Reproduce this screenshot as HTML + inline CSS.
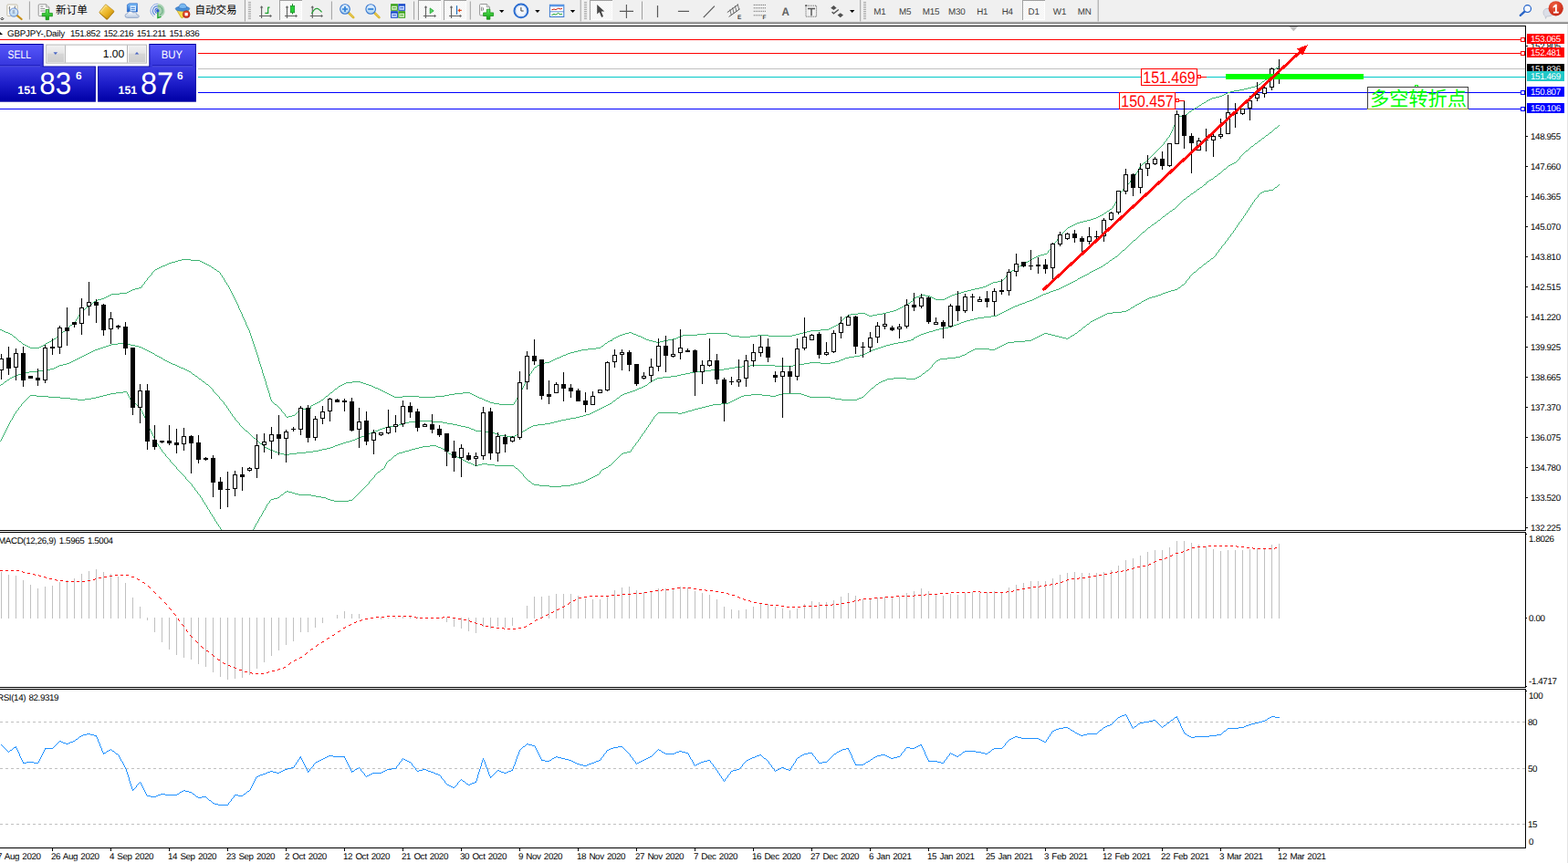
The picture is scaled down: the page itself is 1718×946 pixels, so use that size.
<!DOCTYPE html>
<html><head><meta charset="utf-8"><title>GBPJPY Daily</title>
<style>
html,body{margin:0;padding:0;background:#fff;}
body{width:1718px;height:946px;overflow:hidden;position:relative;font-family:"Liberation Sans",sans-serif;}
#app{position:absolute;left:0;top:0;width:1718px;height:946px;overflow:hidden;background:#fff;}
#chart{position:absolute;left:0;top:0;}
#chart text{font-family:"Liberation Sans",sans-serif;}
*{text-rendering:geometricPrecision;}
.t{position:absolute;font-size:9.8px;line-height:12px;height:12px;white-space:nowrap;color:#000;letter-spacing:-0.38px;}
.lab{position:absolute;left:1673px;width:41px;height:10px;padding-top:1px;font-size:9.8px;line-height:12px;letter-spacing:-0.38px;text-indent:4px;white-space:nowrap;overflow:hidden;}

</style></head>
<body><div id="app">
<svg id="chart" width="1718" height="946" viewBox="0 0 1718 946">
<defs><clipPath id="cm"><rect x="0" y="29" width="1671" height="552"/></clipPath></defs>
<g shape-rendering="crispEdges">
<rect x="0" y="43" width="1671" height="1" fill="#ff0000"/>
<rect x="0" y="58" width="1671" height="1" fill="#ff0000"/>
<rect x="0" y="75" width="1671" height="1" fill="#c0c0c0"/>
<rect x="0" y="84" width="1671" height="1" fill="#00c8c8"/>
<rect x="0" y="101" width="1671" height="1" fill="#0000ff"/>
<rect x="0" y="119" width="1671" height="1" fill="#0000ff"/>
</g>
<path d="M0 361h2v1h-2zm0 61h1v1h-1zm0 61h1v1h-1zm1 -62h2v1h-2zm0 60h1v2h-1zm1 -119h2v1h-2zm0 117h1v2h-1zm1 -59h1v1h-1zm0 57h1v2h-1zm1 -114h2v1h-2zm0 56h1v1h-1zm0 56h1v2h-1zm1 -57h2v1h-2zm0 55h1v2h-1zm1 -109h3v1h-3zm0 107h1v2h-1zm1 -54h1v1h-1zm0 52h1v2h-1zm1 -53h2v1h-2zm0 51h1v2h-1zm1 -102h2v1h-2zm0 100h1v2h-1zm1 -50h1v1h-1zm0 48h1v2h-1zm1 -97h2v1h-2zm0 48h2v1h-2zm0 47h1v2h-1zm1 -1h1v1h-1zm1 -93h1v1h-1zm0 46h2v1h-2zm0 45h1v2h-1zm1 -90h1v1h-1zm0 88h1v2h-1zm1 -87h2v1h-2zm0 43h2v1h-2zm0 42h1v2h-1zm1 -1h1v1h-1zm1 -83h1v1h-1zm0 41h3v1h-3zm0 40h1v2h-1zm1 -80h1v1h-1zm0 79h1v1h-1zm1 -78h1v1h-1zm0 77h1v1h-1zm1 -76h1v1h-1zm0 37h4v1h-4zm0 37h1v2h-1zm1 -73h2v1h-2zm0 72h1v1h-1zm1 -1h1v1h-1zm1 -70h1v1h-1zm0 68h1v2h-1zm1 -67h1v1h-1zm0 33h4v1h-4zm0 33h1v1h-1zm1 -65h2v1h-2zm0 64h1v1h-1zm1 -1h1v1h-1zm1 -62h2v1h-2zm0 61h1v1h-1zm1 -31h4v1h-4zm0 30h1v1h-1zm1 -59h2v1h-2zm0 58h1v1h-1zm1 -1h1v1h-1zm1 -56h2v1h-2zm0 55h1v1h-1zm1 -28h9v1h-9zm0 27h1v1h-1zm1 -53h10v1h-10zm0 52h7v1h-7zm7 1h13v1h-13zm1 -28h9v1h-9zm2 -26h2v1h-2zm2 -1h2v1h-2zm2 -1h2v1h-2zm2 -1h1v1h-1zm1 -1h2v1h-2zm0 29h5v1h-5zm2 -30h2v1h-2zm1 60h13v1h-13zm1 -61h2v1h-2zm1 30h4v1h-4zm1 -31h2v1h-2zm2 -1h1v1h-1zm1 -1h2v1h-2zm0 32h2v1h-2zm2 -33h1v1h-1zm0 32h2v1h-2zm1 -33h1v1h-1zm1 -1h2v1h-2zm0 33h2v1h-2zm2 -34h1v1h-1zm0 33h4v1h-4zm1 -34h1v1h-1zm0 70h11v1h-11zm1 -71h1v1h-1zm1 -1h1v1h-1zm1 -1h2v1h-2zm0 36h4v1h-4zm2 -37h1v1h-1zm1 -1h1v1h-1zm1 -1h1v1h-1zm0 38h3v1h-3zm1 -39h1v1h-1zm1 -1h1v1h-1zm1 -1h1v1h-1zm0 40h2v1h-2zm1 -41h2v1h-2zm0 81h8v1h-8zm1 -41h2v1h-2zm1 -41h1v1h-1zm1 -1h1v1h-1zm0 41h2v1h-2zm1 -42h1v1h-1zm1 -1h1v1h-1zm0 42h2v1h-2zm1 -44h1v2h-1zm1 -1h1v1h-1zm0 44h2v1h-2zm1 -46h1v2h-1zm0 91h8v1h-8zm1 -93h1v2h-1zm0 47h2v1h-2zm1 -48h1v1h-1zm1 -2h1v2h-1zm0 49h2v1h-2zm1 -50h1v1h-1zm1 -1h1v1h-1zm0 50h2v1h-2zm1 -51h2v1h-2zm1 50h2v1h-2zm1 -51h1v1h-1zm0 99h7v1h-7zm1 -100h1v1h-1zm0 51h2v1h-2zm1 -52h2v1h-2zm1 51h2v1h-2zm1 -52h1v1h-1zm1 -1h1v1h-1zm0 52h2v1h-2zm1 -53h2v1h-2zm1 52h2v1h-2zm0 51h5v1h-5zm1 -104h1v1h-1zm1 -1h1v1h-1zm0 53h2v1h-2zm1 -54h2v1h-2zm1 53h3v1h-3zm1 -54h2v1h-2zm0 106h4v1h-4zm2 -107h4v1h-4zm0 54h3v1h-3zm2 52h4v1h-4zm1 -53h3v1h-3zm1 -54h3v1h-3zm2 53h3v1h-3zm0 53h4v1h-4zm1 -107h2v1h-2zm2 -1h2v1h-2zm0 54h3v1h-3zm1 53h4v1h-4zm1 -108h2v1h-2zm1 54h3v1h-3zm1 -55h2v1h-2zm1 108h6v1h-6zm1 -109h9v1h-9zm0 55h7v1h-7zm5 53h8v1h-8zm2 -54h9v1h-9zm2 -55h8v1h-8zm4 108h4v1h-4zm3 -52h5v1h-5zm1 -57h2v1h-2zm0 110h1v2h-1zm1 2h1v2h-1zm1 -113h2v1h-2zm0 115h1v2h-1zm1 2h1v2h-1zm1 -118h2v1h-2zm0 60h5v1h-5zm0 60h1v1h-1zm1 1h1v1h-1zm1 -122h3v1h-3zm0 123h1v1h-1zm1 1h1v1h-1zm1 1h2v1h-2zm1 -126h4v1h-4zm0 63h4v1h-4zm1 64h1v1h-1zm1 1h1v1h-1zm1 1h1v1h-1zm1 -130h3v1h-3zm0 65h3v1h-3zm0 66h1v1h-1zm1 1h1v1h-1zm1 1h1v2h-1zm1 -135h1v2h-1zm0 68h2v1h-2zm0 69h1v2h-1zm1 -138h1v1h-1zm0 140h1v2h-1zm1 -141h1v1h-1zm0 71h2v1h-2zm0 72h1v2h-1zm1 -145h1v2h-1zm0 147h1v2h-1zm1 -148h1v1h-1zm0 75h2v1h-2zm0 75h1v2h-1zm1 -151h1v1h-1zm0 153h1v3h-1zm1 -155h1v2h-1zm0 79h2v1h-2zm0 79h1v2h-1zm1 -159h1v1h-1zm0 161h1v3h-1zm1 -162h1v1h-1zm0 82h2v1h-2zm0 83h1v2h-1zm1 -166h1v1h-1zm0 168h1v2h-1zm1 -169h1v1h-1zm0 85h2v1h-2zm0 86h1v2h-1zm1 -173h1v2h-1zm0 175h1v2h-1zm1 -176h1v1h-1zm0 89h2v1h-2zm0 89h1v2h-1zm1 -179h1v1h-1zm0 181h1v2h-1zm1 -182h1v1h-1zm0 92h1v1h-1zm0 92h1v2h-1zm1 -185h2v1h-2zm0 94h2v1h-2zm0 93h1v2h-1zm1 2h1v2h-1zm1 -190h2v1h-2zm0 96h2v1h-2zm0 96h1v1h-1zm1 1h1v2h-1zm1 -194h2v1h-2zm0 98h2v1h-2zm0 98h1v1h-1zm1 1h1v2h-1zm1 -198h2v1h-2zm0 100h2v1h-2zm0 100h1v1h-1zm1 1h1v2h-1zm1 -202h3v1h-3zm0 102h1v1h-1zm0 102h1v1h-1zm1 -101h2v1h-2zm0 102h1v1h-1zm1 1h1v1h-1zm1 -207h2v1h-2zm0 105h2v1h-2zm0 103h1v2h-1zm1 2h1v1h-1zm1 -211h2v1h-2zm0 107h2v1h-2zm0 105h1v1h-1zm1 1h1v1h-1zm1 -214h3v1h-3zm0 109h2v1h-2zm0 106h1v1h-1zm1 1h1v2h-1zm1 -106h2v1h-2zm0 108h1v1h-1zm1 -219h4v1h-4zm0 220h1v1h-1zm1 -108h3v1h-3zm0 109h1v1h-1zm1 1h1v1h-1zm1 1h1v1h-1zm1 -224h3v1h-3zm0 114h2v1h-2zm0 111h1v1h-1zm1 1h1v2h-1zm1 -111h2v1h-2zm0 113h1v1h-1zm1 -229h4v1h-4zm0 230h1v1h-1zm1 -113h2v1h-2zm0 114h1v1h-1zm1 1h1v1h-1zm1 -114h3v1h-3zm0 115h1v1h-1zm1 -234h10v1h-10zm0 235h1v1h-1zm1 1h1v1h-1zm1 -116h2v1h-2zm0 117h1v1h-1zm1 1h1v1h-1zm1 -117h2v1h-2zm0 118h1v2h-1zm1 2h1v1h-1zm1 -119h2v1h-2zm0 120h1v1h-1zm1 1h1v1h-1zm1 -120h2v1h-2zm0 121h1v1h-1zm1 1h1v1h-1zm1 -244h10v1h-10zm0 123h1v1h-1zm0 122h1v1h-1zm1 -121h1v1h-1zm0 122h1v2h-1zm1 -121h2v1h-2zm0 123h1v1h-1zm1 1h1v1h-1zm1 -123h1v1h-1zm0 124h1v2h-1zm1 -123h2v1h-2zm0 125h1v1h-1zm1 1h1v1h-1zm1 -125h1v1h-1zm0 126h1v2h-1zm1 -125h1v1h-1zm0 127h1v1h-1zm1 -126h2v1h-2zm0 127h1v1h-1zm1 -256h2v1h-2zm0 257h1v2h-1zm1 -127h1v1h-1zm0 129h1v1h-1zm1 -258h2v1h-2zm0 130h1v1h-1zm0 129h1v2h-1zm1 -128h2v1h-2zm0 130h1v2h-1zm1 -260h2v1h-2zm0 262h1v1h-1zm1 -131h1v1h-1zm0 132h1v2h-1zm1 -262h2v1h-2zm0 131h1v1h-1zm0 133h1v1h-1zm1 -132h2v1h-2zm0 133h1v2h-1zm1 -264h2v1h-2zm0 266h1v2h-1zm1 -134h1v1h-1zm0 136h1v1h-1zm1 -267h2v1h-2zm0 132h1v1h-1zm0 136h1v2h-1zm1 -135h1v1h-1zm0 137h1v2h-1zm1 -269h1v1h-1zm0 133h1v1h-1zm0 138h1v1h-1zm1 -270h2v1h-2zm0 133h1v1h-1zm0 138h1v2h-1zm1 -137h1v2h-1zm0 139h1v1h-1zm1 -272h1v1h-1zm0 135h1v1h-1zm0 138h1v2h-1zm1 -272h2v1h-2zm0 135h1v1h-1zm0 139h1v2h-1zm1 -138h1v1h-1zm0 140h1v1h-1zm1 -275h1v1h-1zm0 136h1v1h-1zm0 140h1v2h-1zm1 -275h2v1h-2zm0 136h1v1h-1zm0 141h1v1h-1zm1 -140h1v1h-1zm0 141h1v2h-1zm1 -277h1v1h-1zm0 137h1v2h-1zm0 142h1v1h-1zm1 -278h1v2h-1zm0 138h1v1h-1zm0 141h1v2h-1zm1 -277h1v1h-1zm0 137h1v1h-1zm0 142h1v1h-1zm1 -278h1v2h-1zm0 137h1v1h-1zm1 -135h1v1h-1zm0 136h1v1h-1zm1 -135h1v2h-1zm0 136h1v2h-1zm1 -134h1v2h-1zm0 136h1v1h-1zm1 -134h1v1h-1zm0 135h1v1h-1zm1 -134h1v2h-1zm0 135h1v2h-1zm1 -133h1v1h-1zm0 135h1v1h-1zm1 -134h1v2h-1zm0 135h1v2h-1zm1 -133h1v2h-1zm0 135h1v1h-1zm1 -133h1v2h-1zm0 134h1v2h-1zm1 -132h1v2h-1zm0 134h1v1h-1zm1 -132h1v2h-1zm0 133h1v2h-1zm1 -131h1v2h-1zm0 133h1v1h-1zm1 -131h1v2h-1zm0 132h1v1h-1zm1 -130h1v2h-1zm0 131h1v2h-1zm1 -129h1v2h-1zm0 131h1v1h-1zm1 -129h1v2h-1zm0 130h1v1h-1zm1 -128h1v2h-1zm0 129h1v1h-1zm1 -127h1v3h-1zm0 128h1v1h-1zm1 -125h1v2h-1zm0 126h1v2h-1zm1 -124h1v2h-1zm0 126h1v1h-1zm1 -124h1v2h-1zm0 125h1v1h-1zm1 -123h1v3h-1zm0 124h1v1h-1zm1 -121h1v2h-1zm0 122h1v1h-1zm1 -120h1v2h-1zm0 121h1v1h-1zm1 -119h1v2h-1zm0 120h1v1h-1zm1 -118h1v3h-1zm0 119h2v1h-2zm1 -116h1v2h-1zm1 2h1v2h-1zm0 115h1v1h-1zm1 -113h1v2h-1zm0 114h1v1h-1zm1 -112h1v3h-1zm0 113h1v1h-1zm1 -110h1v3h-1zm0 111h1v1h-1zm1 -108h1v3h-1zm0 109h1v1h-1zm1 -106h1v3h-1zm0 107h1v1h-1zm1 -104h1v3h-1zm0 105h1v1h-1zm0 101h1v1h-1zm1 -203h1v3h-1zm0 103h2v1h-2zm0 98h1v2h-1zm1 -198h1v3h-1zm0 196h1v2h-1zm1 -193h1v3h-1zm0 98h1v1h-1zm0 93h1v2h-1zm1 -188h1v3h-1zm0 96h1v1h-1zm0 91h1v1h-1zm1 -184h1v3h-1zm0 94h1v1h-1zm0 88h1v2h-1zm1 -179h1v4h-1zm0 92h1v1h-1zm0 85h1v2h-1zm1 -173h1v3h-1zm0 89h1v1h-1zm0 82h1v2h-1zm1 -168h1v3h-1zm0 87h2v1h-2zm0 80h1v1h-1zm1 -164h1v3h-1zm0 162h1v2h-1zm1 -159h1v4h-1zm0 82h1v1h-1zm0 75h1v2h-1zm1 -153h1v3h-1zm0 79h1v1h-1zm0 72h1v2h-1zm1 -148h1v3h-1zm0 77h1v1h-1zm0 70h1v1h-1zm1 -144h1v3h-1zm0 75h2v1h-2zm0 67h1v2h-1zm1 -139h1v4h-1zm0 137h1v2h-1zm1 -133h1v3h-1zm0 69h2v1h-2zm0 62h1v2h-1zm1 -128h1v3h-1zm0 127h1v1h-1zm1 -124h1v3h-1zm0 64h2v1h-2zm0 59h1v1h-1zm1 -120h1v4h-1zm0 118h1v2h-1zm1 -114h1v3h-1zm0 58h3v1h-3zm0 55h1v1h-1zm1 -110h1v2h-1zm0 109h3v1h-3zm1 -107h1v1h-1zm1 1h1v1h-1zm0 53h2v1h-2zm1 -52h1v1h-1zm0 104h4v1h-4zm1 -103h2v1h-2zm0 52h3v1h-3zm2 -51h1v1h-1zm1 1h1v1h-1zm0 51h3v1h-3zm0 49h2v1h-2zm1 -99h1v1h-1zm1 1h1v1h-1zm0 97h1v1h-1zm1 -96h1v1h-1zm0 49h4v1h-4zm0 46h1v1h-1zm1 -94h1v2h-1zm0 93h2v1h-2zm1 -91h1v1h-1zm1 1h1v1h-1zm0 89h1v1h-1zm1 -88h1v1h-1zm0 45h6v1h-6zm0 42h1v1h-1zm1 -86h1v2h-1zm0 85h2v1h-2zm1 -83h1v1h-1zm1 1h2v1h-2zm0 81h2v1h-2zm2 -82h4v1h-4zm0 83h4v1h-4zm1 -42h8v1h-8zm3 -42h3v1h-3zm0 85h3v1h-3zm3 -86h1v1h-1zm0 87h4v1h-4zm1 -88h1v1h-1zm1 -1h1v1h-1zm0 44h10v1h-10zm1 -45h2v1h-2zm1 91h14v1h-14zm1 -92h1v1h-1zm1 -1h1v1h-1zm1 -1h5v1h-5zm5 -1h6v1h-6zm0 48h8v1h-8zm5 -50h1v2h-1zm1 -1h2v1h-2zm0 99h5v1h-5zm2 -100h2v1h-2zm0 51h6v1h-6zm2 -52h2v1h-2zm1 102h6v1h-6zm1 -103h2v1h-2zm2 -1h2v1h-2zm0 53h4v1h-4zm2 -54h1v1h-1zm1 -1h2v1h-2zm0 107h5v1h-5zm1 -53h5v1h-5zm1 -55h1v1h-1zm1 -1h1v1h-1zm1 -1h1v1h-1zm1 -1h2v1h-2zm0 112h2v1h-2zm1 -55h4v1h-4zm1 -58h1v1h-1zm0 114h3v1h-3zm1 -115h1v1h-1zm1 -1h1v1h-1zm1 -1h2v1h-2zm0 60h3v1h-3zm0 58h4v1h-4zm2 -119h1v1h-1zm1 -1h1v1h-1zm0 61h2v1h-2zm1 -62h1v1h-1zm0 122h16v1h-16zm1 -123h2v1h-2zm0 62h3v1h-3zm2 -63h1v1h-1zm1 -1h1v1h-1zm0 63h3v1h-3zm1 -64h2v1h-2zm2 -1h2v1h-2zm0 64h3v1h-3zm2 -65h2v1h-2zm1 64h3v1h-3zm1 -65h2v1h-2zm2 -1h7v1h-7zm0 65h4v1h-4zm3 64h4v1h-4zm1 -65h3v1h-3zm3 -65h9v1h-9zm0 64h3v1h-3zm0 65h1v1h-1zm1 -1h1v1h-1zm1 -1h1v1h-1zm1 -64h2v1h-2zm0 63h1v1h-1zm1 -1h1v1h-1zm1 -63h3v1h-3zm0 62h1v1h-1zm1 -1h1v1h-1zm1 -1h1v1h-1zm1 -61h2v1h-2zm0 60h1v1h-1zm1 -120h3v1h-3zm0 119h1v1h-1zm1 -60h3v1h-3zm0 59h1v1h-1zm1 -1h1v1h-1zm1 -116h3v1h-3zm0 115h1v1h-1zm1 -58h2v1h-2zm0 57h1v1h-1zm1 -1h1v1h-1zm1 -112h3v1h-3zm0 55h2v1h-2zm0 56h1v1h-1zm1 -1h1v1h-1zm1 -56h3v1h-3zm0 55h1v1h-1zm1 -108h3v1h-3zm0 106h1v2h-1zm1 -1h1v1h-1zm1 -53h2v1h-2zm0 52h1v1h-1zm1 -103h2v1h-2zm0 102h1v1h-1zm1 -52h3v1h-3zm0 51h1v1h-1zm1 -100h2v1h-2zm0 99h1v1h-1zm1 -2h1v2h-1zm1 -96h3v1h-3zm0 47h3v1h-3zm0 48h1v1h-1zm1 -1h1v1h-1zm1 -1h1v1h-1zm1 -92h2v1h-2zm0 45h2v1h-2zm0 46h2v1h-2zm2 -90h2v1h-2zm0 43h3v1h-3zm0 46h1v1h-1zm1 -1h1v1h-1zm1 -87h2v1h-2zm0 86h2v1h-2zm1 -45h3v1h-3zm1 -40h2v1h-2zm0 84h1v1h-1zm1 -2h1v2h-1zm1 -81h2v1h-2zm0 38h4v1h-4zm0 41h1v2h-1zm1 -2h1v2h-1zm1 -76h2v1h-2zm0 75h1v1h-1zm1 -1h1v1h-1zm1 -73h2v1h-2zm0 35h6v1h-6zm0 37h2v1h-2zm2 -71h2v1h-2zm0 70h1v1h-1zm1 -1h1v1h-1zm1 -68h2v1h-2zm0 67h1v1h-1zm1 -1h1v1h-1zm1 -65h9v1h-9zm0 31h5v1h-5zm0 33h2v1h-2zm2 -1h1v1h-1zm1 -1h2v1h-2zm2 -32h4v1h-4zm0 31h4v1h-4zm4 -62h18v1h-18zm0 30h3v1h-3zm0 31h3v1h-3zm3 -32h4v1h-4zm0 31h4v1h-4zm4 -32h9v1h-9zm0 31h3v1h-3zm3 -1h4v1h-4zm4 -1h4v1h-4zm2 -30h17v1h-17zm2 -26h18v1h-18zm0 55h4v1h-4zm4 -1h8v1h-8zm8 -1h7v1h-7zm3 -26h11v1h-11zm3 -28h10v1h-10zm1 55h2v1h-2zm2 1h3v1h-3zm3 1h2v1h-2zm2 -28h5v1h-5zm0 29h2v1h-2zm2 -59h5v1h-5zm0 60h1v1h-1zm1 1h1v1h-1zm1 1h2v1h-2zm1 -31h6v1h-6zm1 32h1v1h-1zm1 -64h6v1h-6zm0 65h2v1h-2zm2 1h2v1h-2zm2 -33h5v1h-5zm0 34h2v1h-2zm2 -68h9v1h-9zm0 69h3v1h-3zm3 -34h4v1h-4zm0 35h2v1h-2zm2 1h2v1h-2zm2 -35h5v1h-5zm0 36h2v1h-2zm2 -73h8v1h-8zm0 74h2v1h-2zm2 1h2v1h-2zm1 -37h4v1h-4zm1 38h2v1h-2zm2 1h3v1h-3zm1 -38h2v1h-2zm1 -38h2v1h-2zm1 39h3v1h-3zm0 38h2v1h-2zm1 -76h2v1h-2zm1 77h2v1h-2zm1 -76h2v1h-2zm0 38h2v1h-2zm1 39h4v1h-4zm1 -76h2v1h-2zm0 38h9v1h-9zm2 -37h2v1h-2zm1 74h4v1h-4zm1 -73h3v1h-3zm3 1h2v1h-2zm0 71h6v1h-6zm2 -70h2v1h-2zm0 35h10v1h-10zm2 -34h3v1h-3zm2 70h8v1h-8zm1 -69h2v1h-2zm2 1h4v1h-4zm3 33h2v1h-2zm1 -32h6v1h-6zm1 33h3v1h-3zm0 35h21v1h-21zm3 -34h2v1h-2zm2 -33h16v1h-16zm0 34h8v1h-8zm8 1h9v1h-9zm8 -37h1v2h-1zm0 70h1v1h-1zm1 -71h1v1h-1zm0 37h2v1h-2zm0 35h1v1h-1zm1 -74h1v2h-1zm0 75h2v1h-2zm1 -77h1v2h-1zm0 40h2v1h-2zm1 -41h1v1h-1zm0 79h1v1h-1zm1 -81h1v2h-1zm0 42h2v1h-2zm0 40h1v1h-1zm1 -84h1v2h-1zm0 85h1v1h-1zm1 -87h1v2h-1zm0 45h2v1h-2zm0 43h1v1h-1zm1 -90h1v2h-1zm0 91h1v1h-1zm1 -93h1v2h-1zm0 48h1v1h-1zm0 46h1v1h-1zm1 -96h1v2h-1zm0 49h2v1h-2zm0 48h1v2h-1zm1 -99h1v2h-1zm0 101h1v1h-1zm1 -103h1v2h-1zm0 52h2v1h-2zm0 52h1v1h-1zm1 -106h1v2h-1zm0 107h1v1h-1zm1 -109h1v2h-1zm0 55h1v1h-1zm0 55h1v1h-1zm1 -112h1v2h-1zm0 56h2v1h-2zm0 57h1v1h-1zm1 -114h1v1h-1zm0 115h2v1h-2zm1 -117h1v2h-1zm0 58h2v1h-2zm1 -59h1v1h-1zm0 119h1v1h-1zm1 -121h1v2h-1zm0 60h2v1h-2zm0 62h1v1h-1zm1 -123h1v1h-1zm0 124h2v1h-2zm1 -126h1v2h-1zm0 62h5v1h-5zm1 -63h1v1h-1zm0 128h6v1h-6zm1 -129h2v1h-2zm2 -1h1v1h-1zm1 -1h2v1h-2zm0 65h8v1h-8zm2 -66h2v1h-2zm0 133h11v1h-11zm2 -134h4v1h-4zm4 -1h5v1h-5zm0 67h6v1h-6zm5 -68h2v1h-2zm0 137h13v1h-13zm1 -70h4v1h-4zm1 -68h2v1h-2zm2 -1h2v1h-2zm1 68h4v1h-4zm1 -69h2v1h-2zm2 -1h3v1h-3zm1 69h4v1h-4zm2 -70h2v1h-2zm2 -1h2v1h-2zm0 70h5v1h-5zm0 72h10v1h-10zm2 -143h3v1h-3zm3 -1h2v1h-2zm0 71h5v1h-5zm2 -72h3v1h-3zm3 -1h4v1h-4zm0 72h6v1h-6zm0 73h4v1h-4zm4 -146h4v1h-4zm0 145h4v1h-4zm2 -73h4v1h-4zm2 -73h4v1h-4zm0 145h4v1h-4zm2 -73h4v1h-4zm2 -73h7v1h-7zm0 145h3v1h-3zm2 -73h3v1h-3zm1 72h2v1h-2zm2 -73h4v1h-4zm0 72h2v1h-2zm2 -144h9v1h-9zm0 143h2v1h-2zm2 -72h2v1h-2zm0 71h2v1h-2zm2 -72h2v1h-2zm0 71h2v1h-2zm2 -72h2v1h-2zm0 71h2v1h-2zm2 -72h2v1h-2zm0 71h2v1h-2zm1 -140h5v1h-5zm1 68h2v1h-2zm0 71h2v1h-2zm2 -72h2v1h-2zm0 71h1v1h-1zm1 -2h1v2h-1zm1 -137h1v1h-1zm0 67h2v1h-2zm0 69h1v1h-1zm1 -137h2v1h-2zm0 136h1v1h-1zm1 -69h2v1h-2zm0 68h2v1h-2zm1 -136h1v1h-1zm1 -1h1v1h-1zm0 68h2v1h-2zm0 68h2v1h-2zm1 -137h2v1h-2zm1 68h2v1h-2zm0 68h2v1h-2zm1 -137h1v1h-1zm1 -1h2v1h-2zm0 69h2v1h-2zm0 68h1v1h-1zm1 -1h2v1h-2zm1 -137h3v1h-3zm0 69h2v1h-2zm1 67h1v1h-1zm1 -137h1v1h-1zm0 69h1v1h-1zm0 67h1v1h-1zm1 -137h2v1h-2zm0 69h1v1h-1zm0 67h1v1h-1zm1 -68h2v1h-2zm0 67h1v1h-1zm1 -136h2v1h-2zm0 135h1v1h-1zm1 -67h1v1h-1zm0 66h1v1h-1zm1 -135h2v1h-2zm0 68h1v1h-1zm0 66h1v1h-1zm1 -67h2v1h-2zm0 66h1v1h-1zm1 -134h2v1h-2zm0 133h1v1h-1zm1 -66h1v1h-1zm0 65h1v1h-1zm1 -133h3v1h-3zm0 67h1v1h-1zm0 65h1v1h-1zm1 -66h2v1h-2zm0 65h1v1h-1zm1 -1h2v1h-2zm1 -131h3v1h-3zm0 66h2v1h-2zm1 64h4v1h-4zm1 -65h3v1h-3zm1 -66h4v1h-4zm2 65h3v1h-3zm0 65h4v1h-4zm2 -131h3v1h-3zm1 65h3v1h-3zm1 64h1v2h-1zm1 -128h2v1h-2zm0 127h1v1h-1zm1 -64h3v1h-3zm0 62h1v2h-1zm1 -124h3v1h-3zm0 123h1v1h-1zm1 -1h1v1h-1zm1 -61h2v1h-2zm0 59h1v2h-1zm1 -119h2v1h-2zm0 118h1v1h-1zm1 -59h2v1h-2zm0 58h1v1h-1zm1 -116h3v1h-3zm0 114h1v2h-1zm1 -57h3v1h-3zm0 56h1v1h-1zm1 -2h1v2h-1zm1 -110h2v1h-2zm0 109h1v1h-1zm1 -54h2v1h-2zm0 52h1v2h-1zm1 -106h2v1h-2zm0 105h1v1h-1zm1 -52h2v1h-2zm0 51h1v1h-1zm1 -103h2v1h-2zm0 101h1v2h-1zm1 -50h2v1h-2zm0 49h1v1h-1zm1 -99h3v1h-3zm0 97h1v2h-1zm1 -48h1v1h-1zm0 47h1v1h-1zm1 -48h1v1h-1zm0 46h1v2h-1zm1 -93h4v1h-4zm0 46h2v1h-2zm0 46h1v1h-1zm1 -2h1v2h-1zm1 -45h1v1h-1zm0 44h1v1h-1zm1 -45h2v1h-2zm0 43h1v2h-1zm1 -86h4v1h-4zm0 85h1v1h-1zm1 -43h2v1h-2zm0 41h1v2h-1zm1 -1h1v1h-1zm1 -41h2v1h-2zm0 40h1v1h-1zm1 -80h4v1h-4zm0 79h1v1h-1zm1 -40h6v1h-6zm0 39h1v1h-1zm1 -1h22v1h-22zm2 -78h4v1h-4zm3 39h9v1h-9zm1 -40h5v1h-5zm5 -1h5v1h-5zm3 40h7v1h-7zm2 -41h4v1h-4zm4 -1h2v1h-2zm1 41h4v1h-4zm1 -42h3v1h-3zm0 84h4v1h-4zm3 -85h2v1h-2zm0 42h5v1h-5zm1 42h4v1h-4zm1 -85h16v1h-16zm3 42h5v1h-5zm0 42h3v1h-3zm3 -1h4v1h-4zm2 -42h5v1h-5zm2 41h3v1h-3zm3 -42h6v1h-6zm0 41h4v1h-4zm3 -82h10v1h-10zm1 81h4v1h-4zm2 -41h12v1h-12zm2 40h4v1h-4zm4 -1h4v1h-4zm1 -80h23v1h-23zm3 79h4v1h-4zm2 -39h14v1h-14zm2 38h9v1h-9zm9 -1h8v1h-8zm3 -38h6v1h-6zm4 -38h2v1h-2zm1 75h2v1h-2zm1 -74h2v1h-2zm0 36h6v1h-6zm1 37h2v1h-2zm1 -72h9v1h-9zm1 71h2v1h-2zm2 -1h2v1h-2zm1 -36h8v1h-8zm1 35h2v1h-2zm2 -1h2v1h-2zm2 -67h12v1h-12zm0 66h2v1h-2zm2 -1h3v1h-3zm1 -33h9v1h-9zm2 32h8v1h-8zm7 -65h8v1h-8zm0 32h27v1h-27zm1 32h12v1h-12zm7 -65h12v1h-12zm5 66h9v1h-9zm7 -65h26v1h-26zm2 66h6v1h-6zm5 -33h20v1h-20zm1 32h3v1h-3zm3 -1h4v1h-4zm4 -1h21v1h-21zm11 -64h4v1h-4zm1 33h6v1h-6zm3 -34h4v1h-4zm3 33h6v1h-6zm1 -34h4v1h-4zm2 67h3v1h-3zm2 -68h4v1h-4zm1 34h6v1h-6zm0 35h3v1h-3zm3 -70h4v1h-4zm0 71h3v1h-3zm3 -37h12v1h-12zm0 38h23v1h-23zm1 -73h11v1h-11zm11 -1h9v1h-9zm0 37h11v1h-11zm9 -38h2v1h-2zm2 -1h2v1h-2zm0 38h5v1h-5zm0 39h5v1h-5zm2 -78h2v1h-2zm2 -1h2v1h-2zm1 39h4v1h-4zm0 41h7v1h-7zm1 -81h2v1h-2zm2 -1h1v1h-1zm1 -1h1v1h-1zm0 41h2v1h-2zm1 -42h1v1h-1zm1 -1h1v1h-1zm0 42h3v1h-3zm1 -43h1v1h-1zm0 87h17v1h-17zm1 -88h1v1h-1zm1 -1h1v1h-1zm0 44h2v1h-2zm1 -45h1v1h-1zm1 -1h2v1h-2zm0 45h4v1h-4zm2 -46h2v1h-2zm2 -1h2v1h-2zm0 46h6v1h-6zm2 -47h8v1h-8zm4 46h6v1h-6zm3 47h2v1h-2zm1 -94h8v1h-8zm1 93h3v1h-3zm1 -47h4v1h-4zm2 46h2v1h-2zm2 -47h2v1h-2zm0 46h1v1h-1zm1 -1h1v1h-1zm1 -89h2v1h-2zm0 43h2v1h-2zm0 45h1v1h-1zm1 -1h1v1h-1zm1 -86h2v1h-2zm0 41h2v1h-2zm0 44h1v1h-1zm1 -1h1v1h-1zm1 -83h4v1h-4zm0 39h2v1h-2zm0 43h1v1h-1zm1 -1h1v1h-1zm1 -43h2v1h-2zm0 42h1v1h-1zm1 -1h2v1h-2zm1 -80h5v1h-5zm0 38h3v1h-3zm1 41h1v1h-1zm1 -1h1v1h-1zm1 -41h3v1h-3zm0 40h1v1h-1zm1 -1h2v1h-2zm1 -77h6v1h-6zm1 37h3v1h-3zm0 39h1v1h-1zm1 -1h2v1h-2zm2 -39h3v1h-3zm0 38h2v1h-2zm2 -75h4v1h-4zm0 74h3v1h-3zm1 -38h3v1h-3zm2 37h2v1h-2zm1 -74h4v1h-4zm0 36h4v1h-4zm1 37h7v1h-7zm3 -74h4v1h-4zm0 36h4v1h-4zm4 -37h3v1h-3zm0 36h5v1h-5zm0 38h14v1h-14zm3 -75h2v1h-2zm2 -1h2v1h-2zm0 37h6v1h-6zm2 -38h2v1h-2zm2 -1h2v1h-2zm2 -1h2v1h-2zm0 39h4v1h-4zm2 -40h2v1h-2zm1 81h10v1h-10zm1 -82h1v1h-1zm0 40h4v1h-4zm1 -41h2v1h-2zm2 -1h1v1h-1zm1 -1h2v1h-2zm0 42h3v1h-3zm2 -45h2v1h-2zm0 1h1v2h-1zm0 43h1v1h-1zm1 -1h2v1h-2zm1 -44h2v1h-2zm1 43h2v1h-2zm0 45h2v1h-2zm1 -89h3v1h-3zm1 43h2v1h-2zm0 45h2v1h-2zm2 -89h2v1h-2zm0 43h2v1h-2zm0 45h2v1h-2zm2 -89h5v1h-5zm0 43h3v1h-3zm0 45h1v1h-1zm1 -1h1v1h-1zm1 -1h2v1h-2zm1 -44h3v1h-3zm1 43h1v1h-1zm1 -84h5v1h-5zm0 83h1v1h-1zm1 -43h3v1h-3zm0 42h2v1h-2zm2 -1h1v1h-1zm1 -42h4v1h-4zm0 41h1v1h-1zm1 -79h2v1h-2zm0 78h1v1h-1zm1 -1h1v1h-1zm1 -76h2v1h-2zm0 74h1v2h-1zm1 -38h3v1h-3zm0 37h1v1h-1zm1 -72h2v1h-2zm0 71h1v1h-1zm1 -1h1v1h-1zm1 -69h10v1h-10zm0 33h4v1h-4zm0 35h1v1h-1zm1 -1h2v1h-2zm2 -1h2v1h-2zm1 -34h5v1h-5zm1 33h8v1h-8zm4 -34h5v1h-5zm1 -32h2v1h-2zm2 -1h2v1h-2zm1 66h9v1h-9zm1 -67h2v1h-2zm0 33h4v1h-4zm2 -34h2v1h-2zm2 -1h3v1h-3zm0 34h2v1h-2zm2 -1h3v1h-3zm1 -34h3v1h-3zm1 69h5v1h-5zm1 -36h3v1h-3zm1 -34h4v1h-4zm2 33h2v1h-2zm1 36h2v1h-2zm1 -70h3v1h-3zm0 33h3v1h-3zm1 36h3v1h-3zm2 -70h4v1h-4zm0 33h3v1h-3zm1 36h2v1h-2zm2 -37h4v1h-4zm0 36h1v1h-1zm1 -69h4v1h-4zm0 68h2v1h-2zm2 -1h2v1h-2zm1 -35h4v1h-4zm1 -33h4v1h-4zm0 67h2v1h-2zm2 -1h2v1h-2zm1 -34h4v1h-4zm1 -33h5v1h-5zm0 66h16v1h-16zm3 -34h7v1h-7zm2 -33h4v1h-4zm4 -1h3v1h-3zm1 33h8v1h-8zm2 -34h2v1h-2zm2 -1h2v1h-2zm2 -1h2v1h-2zm0 72h6v1h-6zm2 -73h2v1h-2zm0 36h6v1h-6zm2 -37h5v1h-5zm2 73h2v1h-2zm2 -37h2v1h-2zm0 36h2v1h-2zm1 -73h5v1h-5zm1 36h2v1h-2zm0 36h2v1h-2zm2 -37h2v1h-2zm0 36h2v1h-2zm2 -72h1v1h-1zm0 35h2v1h-2zm0 36h2v1h-2zm1 -72h1v1h-1zm1 -1h1v1h-1zm0 36h2v1h-2zm0 36h2v1h-2zm1 -73h1v1h-1zm1 -2h1v2h-1zm0 38h2v1h-2zm0 36h2v1h-2zm1 -75h1v1h-1zm1 -1h1v1h-1zm0 39h2v1h-2zm0 36h7v1h-7zm1 -76h1v1h-1zm1 -1h1v1h-1zm0 40h2v1h-2zm1 -41h2v1h-2zm1 40h2v1h-2zm1 -41h2v1h-2zm1 40h2v1h-2zm1 -41h2v1h-2zm0 79h12v1h-12zm1 -39h3v1h-3zm1 -41h1v1h-1zm1 -1h2v1h-2zm1 41h2v1h-2zm1 -42h1v1h-1zm1 -1h2v1h-2zm0 42h3v1h-3zm2 -43h2v1h-2zm1 42h3v1h-3zm1 -43h1v1h-1zm1 -1h2v1h-2zm1 43h2v1h-2zm0 42h7v1h-7zm1 -86h2v1h-2zm1 43h3v1h-3zm1 -44h2v1h-2zm2 -1h2v1h-2zm0 44h3v1h-3zm2 -45h1v1h-1zm0 88h2v1h-2zm1 -89h2v1h-2zm0 45h2v1h-2zm1 43h2v1h-2zm1 -89h2v1h-2zm0 45h2v1h-2zm1 43h2v1h-2zm1 -89h2v1h-2zm0 45h2v1h-2zm1 43h2v1h-2zm1 -89h3v1h-3zm0 45h2v1h-2zm1 43h2v1h-2zm1 -44h2v1h-2zm1 -45h4v1h-4zm0 88h2v1h-2zm1 -44h2v1h-2zm1 43h2v1h-2zm1 -44h3v1h-3zm1 -44h3v1h-3zm0 87h4v1h-4zm2 -44h3v1h-3zm1 -44h1v1h-1zm1 -2h1v2h-1zm0 91h4v1h-4zm1 -92h1v1h-1zm0 46h2v1h-2zm1 -47h1v1h-1zm1 -2h1v2h-1zm0 48h3v1h-3zm1 -49h1v1h-1zm0 97h4v1h-4zm1 -98h1v1h-1zm1 -1h1v1h-1zm0 50h3v1h-3zm1 -52h1v2h-1zm1 -1h1v1h-1zm0 103h4v1h-4zm1 -104h1v1h-1zm0 53h3v1h-3zm1 -55h1v2h-1zm1 -1h1v1h-1zm1 -1h1v1h-1zm0 56h2v1h-2zm0 53h4v1h-4zm1 -111h1v2h-1zm1 -1h1v1h-1zm0 58h2v1h-2zm1 -59h1v1h-1zm1 -1h1v1h-1zm0 59h2v1h-2zm0 56h4v1h-4zm1 -116h1v1h-1zm1 -1h1v1h-1zm0 60h2v1h-2zm1 -61h1v1h-1zm1 -1h1v1h-1zm0 61h2v1h-2zm0 59h2v1h-2zm1 -121h1v1h-1zm1 -1h2v1h-2zm0 62h2v1h-2zm0 59h2v1h-2zm2 -122h2v1h-2zm0 62h2v1h-2zm0 59h1v1h-1zm1 -1h2v1h-2zm1 -121h2v1h-2zm0 62h2v1h-2zm1 58h2v1h-2zm1 -121h2v1h-2zm0 62h2v1h-2zm1 58h1v1h-1zm1 -121h2v1h-2zm0 62h2v1h-2zm0 58h2v1h-2zm2 -121h3v1h-3zm0 62h1v1h-1zm0 58h1v1h-1zm1 -59h2v1h-2zm0 58h1v1h-1zm1 -1h2v1h-2zm1 -119h4v1h-4zm0 61h2v1h-2zm1 57h1v1h-1zm1 -58h2v1h-2zm0 57h1v1h-1zm1 -1h1v1h-1zm1 -117h4v1h-4zm0 60h2v1h-2zm0 56h2v1h-2zm2 -57h2v1h-2zm0 56h1v1h-1zm1 -1h1v1h-1zm1 -115h4v1h-4zm0 59h2v1h-2zm0 55h2v1h-2zm2 -56h1v1h-1zm0 55h1v1h-1zm1 -56h2v1h-2zm0 55h1v1h-1zm1 -113h3v1h-3zm0 112h2v1h-2zm1 -55h2v1h-2zm1 54h2v1h-2zm1 -112h3v1h-3zm0 57h2v1h-2zm1 54h2v1h-2zm1 -55h2v1h-2zm1 -57h2v1h-2zm0 111h2v1h-2zm1 -55h2v1h-2zm1 -57h2v1h-2zm0 111h2v1h-2zm1 -55h2v1h-2zm1 -57h2v1h-2zm0 111h2v1h-2zm1 -55h2v1h-2zm1 -57h2v1h-2zm0 111h2v1h-2zm1 -55h1v1h-1zm1 -57h1v1h-1zm0 56h2v1h-2zm0 55h2v1h-2zm1 -112h2v1h-2zm1 56h1v1h-1zm0 55h2v1h-2zm1 -112h1v1h-1zm0 56h2v1h-2zm1 -57h2v1h-2zm0 112h6v1h-6zm1 -56h1v1h-1zm1 -57h1v1h-1zm0 56h1v1h-1zm1 -57h2v1h-2zm0 56h2v1h-2zm2 -57h1v1h-1zm0 56h1v1h-1zm1 -58h1v2h-1zm0 57h2v1h-2zm0 59h10v1h-10zm1 -117h1v1h-1zm1 -2h1v2h-1zm0 59h1v1h-1zm1 -61h1v2h-1zm0 60h2v1h-2zm1 -62h1v2h-1zm1 -2h1v2h-1zm0 63h1v1h-1zm1 -65h1v2h-1zm0 64h1v1h-1zm1 -66h1v2h-1zm0 65h1v1h-1zm1 -67h1v2h-1zm0 66h1v1h-1zm1 -67h1v1h-1zm0 66h1v1h-1zm1 -67h1v1h-1zm0 66h1v1h-1zm0 66h5v1h-5zm1 -134h1v2h-1zm0 67h2v1h-2zm1 -68h1v1h-1zm1 -1h1v1h-1zm0 68h1v1h-1zm1 -69h1v1h-1zm0 68h1v1h-1zm1 -69h1v1h-1zm0 68h1v1h-1zm0 69h2v1h-2zm1 -138h1v1h-1zm0 68h1v1h-1zm1 -69h1v1h-1zm0 68h1v1h-1zm0 70h2v1h-2zm1 -139h1v1h-1zm0 68h1v1h-1zm1 -70h1v2h-1zm0 69h1v1h-1zm0 71h1v1h-1zm1 -141h1v1h-1zm0 69h1v1h-1zm0 71h2v1h-2zm1 -141h1v1h-1zm0 69h1v1h-1zm1 -70h1v1h-1zm0 69h1v1h-1zm0 72h2v1h-2zm1 -142h1v1h-1zm0 69h2v1h-2zm1 -71h1v2h-1zm0 143h1v1h-1zm1 -145h1v2h-1zm0 72h1v1h-1zm0 72h2v1h-2zm1 -145h1v1h-1zm0 72h1v1h-1zm1 -74h1v2h-1zm0 73h1v1h-1zm0 73h2v1h-2zm1 -148h1v2h-1zm0 74h1v1h-1zm1 -76h1v2h-1zm0 75h1v1h-1zm0 74h2v1h-2zm1 -150h1v1h-1zm0 75h1v1h-1zm1 -76h1v1h-1zm0 75h1v1h-1zm0 75h1v1h-1zm1 -151h1v1h-1zm0 75h1v1h-1zm0 75h2v1h-2zm1 -151h1v1h-1zm0 75h2v1h-2zm1 -76h2v1h-2zm0 151h2v1h-2zm1 -76h1v1h-1zm1 -76h1v1h-1zm0 75h1v1h-1zm0 76h2v1h-2zm1 -152h1v1h-1zm0 75h1v1h-1zm1 -76h1v1h-1zm0 75h1v1h-1zm0 77h2v1h-2zm1 -153h1v1h-1zm0 75h2v1h-2zm1 -76h1v1h-1zm0 153h3v1h-3zm1 -154h1v1h-1zm0 76h1v1h-1zm1 -77h1v1h-1zm0 76h1v1h-1zm1 -77h1v1h-1zm0 76h2v1h-2zm0 79h4v1h-4zm1 -156h1v1h-1zm1 -1h1v1h-1zm0 77h1v1h-1zm1 -78h1v1h-1zm0 77h2v1h-2zm1 -78h1v1h-1zm0 158h3v1h-3zm1 -159h1v1h-1zm0 78h1v1h-1zm1 -79h1v1h-1zm0 78h1v1h-1zm1 -79h1v1h-1zm0 78h2v1h-2zm0 82h3v1h-3zm1 -161h1v1h-1zm1 -1h1v1h-1zm0 79h1v1h-1zm1 -80h1v1h-1zm0 79h1v1h-1zm0 83h2v1h-2zm1 -163h1v1h-1zm0 79h1v1h-1zm1 -80h1v1h-1zm0 79h2v1h-2zm0 84h3v1h-3zm1 -165h1v2h-1zm1 -1h1v1h-1zm0 81h1v1h-1zm1 -82h1v1h-1zm0 81h1v1h-1zm0 85h3v1h-3zm1 -168h1v2h-1zm0 82h2v1h-2zm1 -83h1v1h-1zm1 -1h1v1h-1zm0 83h1v1h-1zm0 86h3v1h-3zm1 -171h1v2h-1zm0 84h1v1h-1zm1 -86h1v2h-1zm0 85h2v1h-2zm1 -87h1v2h-1zm0 174h4v1h-4zm1 -176h1v2h-1zm0 88h1v1h-1zm1 -91h1v3h-1zm0 90h2v1h-2zm1 -92h1v2h-1zm1 -2h1v2h-1zm0 93h1v1h-1zm0 89h3v1h-3zm1 -184h1v2h-1zm0 94h1v1h-1zm1 -95h1v1h-1zm0 94h1v1h-1zm1 -96h1v2h-1zm0 95h1v1h-1zm0 91h1v1h-1zm1 -188h1v2h-1zm0 96h1v1h-1zm0 91h2v1h-2zm1 -188h3v1h-3zm0 96h1v1h-1zm1 -1h1v1h-1zm0 92h1v1h-1zm1 -93h1v1h-1zm0 92h1v1h-1zm1 -187h4v1h-4zm0 94h1v1h-1zm0 92h2v1h-2zm1 -93h1v1h-1zm1 -1h2v1h-2zm0 93h1v1h-1zm1 -1h1v1h-1zm1 -185h2v1h-2zm0 92h1v1h-1zm0 91h1v2h-1zm1 -92h1v1h-1zm0 91h1v1h-1zm1 -183h1v1h-1zm0 91h2v1h-2zm0 91h1v1h-1zm1 -183h1v1h-1zm0 182h1v1h-1zm1 -183h2v1h-2zm0 92h1v1h-1zm0 89h1v2h-1zm1 -90h1v1h-1zm0 89h1v1h-1zm1 -181h1v1h-1zm0 91h2v1h-2zm0 89h1v1h-1zm1 -181h2v1h-2zm0 180h1v1h-1zm1 -89h1v1h-1zm0 88h1v1h-1zm1 -180h1v1h-1zm0 91h2v1h-2zm0 88h2v1h-2zm1 -180h2v1h-2zm1 91h1v1h-1zm0 88h1v1h-1zm1 -180h2v1h-2zm0 91h1v1h-1zm0 88h1v1h-1zm1 -89h2v1h-2zm0 88h1v1h-1zm1 -179h1v1h-1zm0 178h1v1h-1zm1 -179h2v1h-2zm0 91h1v1h-1zm0 87h2v1h-2zm1 -88h2v1h-2zm1 -91h1v1h-1zm0 178h1v1h-1zm1 -179h2v1h-2zm0 91h1v1h-1zm0 87h1v1h-1zm1 -88h1v1h-1zm0 87h1v1h-1zm1 -178h2v1h-2zm0 90h2v1h-2zm0 87h2v1h-2zm2 -178h1v1h-1zm0 89h1v2h-1zm0 88h1v1h-1zm1 -178h2v1h-2zm0 89h2v1h-2zm0 88h1v1h-1zm1 -1h2v1h-2zm1 -177h2v1h-2zm0 89h1v1h-1zm1 -1h2v1h-2zm0 88h1v1h-1zm1 -177h2v1h-2zm0 176h1v1h-1zm1 -88h2v1h-2zm0 87h2v1h-2zm1 -176h4v1h-4zm1 88h1v1h-1zm0 87h1v1h-1zm1 -88h1v1h-1zm0 87h1v1h-1zm1 -88h2v1h-2zm0 87h1v1h-1zm1 -174h4v1h-4zm0 172h1v2h-1zm1 -86h1v1h-1zm0 85h1v1h-1zm1 -86h1v1h-1zm0 85h1v1h-1zm1 -86h2v1h-2zm0 84h1v2h-1zm1 -169h3v1h-3zm0 168h1v1h-1zm1 -84h1v1h-1zm0 83h1v1h-1zm1 -84h1v1h-1zm0 82h1v2h-1zm1 -166h2v1h-2zm0 83h1v1h-1zm0 82h1v1h-1zm1 -83h1v1h-1zm0 82h1v1h-1zm1 -165h2v1h-2zm0 82h2v1h-2zm0 82h1v1h-1zm1 -2h1v2h-1zm1 -163h2v1h-2zm0 82h1v1h-1zm0 80h1v1h-1zm1 -81h1v1h-1zm0 80h1v1h-1zm1 -162h3v1h-3zm0 81h1v1h-1zm0 79h1v2h-1zm1 -80h2v1h-2zm0 79h1v1h-1zm1 -1h1v1h-1zm1 -159h4v1h-4zm0 80h2v1h-2zm0 77h1v2h-1zm1 -1h1v1h-1zm1 -77h2v1h-2zm0 76h1v1h-1zm1 -2h1v2h-1zm1 -154h6v1h-6zm0 79h2v1h-2zm0 74h1v1h-1zm1 -2h1v2h-1zm1 -73h1v1h-1zm0 72h1v1h-1zm1 -73h1v1h-1zm0 71h1v2h-1zm1 -72h1v1h-1zm0 71h1v1h-1zm1 -72h1v1h-1zm0 70h1v2h-1zm1 -146h5v1h-5zm0 74h1v2h-1zm0 71h1v1h-1zm1 -72h1v1h-1zm0 71h1v1h-1zm1 -72h1v1h-1zm0 70h1v2h-1zm1 -71h1v1h-1zm0 70h1v1h-1zm1 -71h1v1h-1zm0 69h1v2h-1zm1 -140h4v1h-4zm0 70h1v1h-1zm0 69h1v1h-1zm1 -70h1v1h-1zm0 68h1v2h-1zm1 -69h2v1h-2zm0 68h1v1h-1zm1 -2h1v2h-1zm1 -135h4v1h-4zm0 68h1v1h-1zm0 66h1v1h-1zm1 -67h1v1h-1zm0 65h1v2h-1zm1 -66h1v1h-1zm0 65h1v1h-1zm1 -66h1v1h-1zm0 64h1v2h-1zm1 -130h4v1h-4zm0 65h2v1h-2zm0 64h1v1h-1zm1 -2h1v2h-1zm1 -63h1v1h-1zm0 62h1v1h-1zm1 -63h1v1h-1zm0 61h1v2h-1zm1 -125h3v1h-3zm0 63h2v1h-2zm0 61h1v1h-1zm1 -1h1v1h-1zm1 -61h1v1h-1zm0 60h1v1h-1zm1 -123h1v1h-1zm0 62h1v1h-1zm0 59h1v2h-1zm1 -122h2v1h-2zm0 62h2v1h-2zm0 59h1v1h-1zm1 -1h1v1h-1zm1 -121h1v1h-1zm0 62h1v1h-1zm0 58h2v1h-2zm1 -121h1v1h-1zm0 62h1v1h-1zm1 -63h2v1h-2zm0 62h2v1h-2zm0 59h2v1h-2zm2 -122h1v1h-1zm0 62h1v1h-1zm0 59h5v1h-5zm1 -122h2v1h-2zm0 62h1v1h-1zm1 -1h2v1h-2zm1 -62h2v1h-2zm1 61h1v1h-1zm1 -62h2v1h-2zm0 61h1v1h-1zm0 62h5v1h-5zm1 -63h2v1h-2zm1 -62h1v2h-1zm1 -2h1v2h-1zm0 63h1v1h-1zm1 -65h1v2h-1zm0 64h1v1h-1zm1 -66h1v2h-1zm0 65h1v1h-1zm0 65h1v1h-1zm1 -131h1v1h-1zm0 65h1v1h-1zm0 65h1v1h-1zm1 -131h1v1h-1zm0 65h2v1h-2zm0 65h2v1h-2zm1 -131h2v1h-2zm1 65h1v1h-1zm0 65h1v1h-1zm1 -131h1v1h-1zm0 65h1v1h-1zm0 65h1v1h-1zm1 -131h1v1h-1zm0 65h1v1h-1zm0 65h1v1h-1z" fill="#3cb371" shape-rendering="crispEdges"/>
<g shape-rendering="crispEdges">
<path d="M1 388h1V416h-1zM-1 393h5V406h-5zM9 380h1V411h-1zM7 392h5V404h-5zM17 382h1V417h-1zM15 387h5V403h-5zM25 380h1V424h-1zM23 387h5V417h-5zM33 412h1V415h-1zM31 412h5V415h-5zM41 404h1V423h-1zM39 414h5V417h-5zM49 378h1V420h-1zM47 381h5V417h-5zM57 371h1V389h-1zM55 380h5V382h-5zM65 357h1V388h-1zM63 359h5V381h-5zM73 337h1V379h-1zM71 359h5V363h-5zM81 353h1V359h-1zM79 353h5V356h-5zM89 327h1V367h-1zM87 337h5V355h-5zM97 309h1V346h-1zM95 331h5V336h-5zM105 328h1V354h-1zM103 331h5V335h-5zM113 333h1V368h-1zM111 334h5V362h-5zM121 342h1V377h-1zM119 349h5V361h-5zM129 356h1V361h-1zM127 357h5V359h-5zM137 353h1V389h-1zM135 358h5V382h-5zM145 381h1V455h-1zM143 381h5V447h-5zM153 421h1V464h-1zM151 428h5V447h-5zM161 421h1V493h-1zM159 428h5V484h-5zM169 466h1V493h-1zM167 482h5V490h-5zM177 483h1V486h-1zM175 483h5V485h-5zM185 466h1V488h-1zM183 483h5V486h-5zM193 470h1V497h-1zM191 485h5V488h-5zM201 469h1V494h-1zM199 478h5V487h-5zM209 477h1V519h-1zM207 478h5V486h-5zM217 477h1V508h-1zM215 485h5V504h-5zM225 501h1V505h-1zM223 502h5V504h-5zM233 499h1V545h-1zM231 502h5V529h-5zM241 523h1V558h-1zM239 528h5V537h-5zM249 517h1V556h-1zM247 536h5V537h-5zM257 516h1V544h-1zM255 520h5V536h-5zM265 512h1V538h-1zM263 520h5V523h-5zM273 512h1V517h-1zM271 513h5V516h-5zM281 476h1V524h-1zM279 488h5V514h-5zM289 475h1V496h-1zM287 484h5V488h-5zM297 468h1V503h-1zM295 476h5V484h-5zM305 455h1V499h-1zM303 476h5V481h-5zM313 471h1V507h-1zM311 473h5V481h-5zM321 468h1V473h-1zM319 470h5V471h-5zM329 445h1V477h-1zM327 447h5V471h-5zM337 444h1V485h-1zM335 447h5V480h-5zM345 456h1V483h-1zM343 459h5V480h-5zM353 445h1V465h-1zM351 451h5V459h-5zM361 436h1V462h-1zM359 437h5V451h-5zM369 437h1V441h-1zM367 438h5V441h-5zM377 437h1V451h-1zM375 439h5V441h-5zM385 436h1V473h-1zM383 440h5V472h-5zM393 447h1V491h-1zM391 462h5V471h-5zM401 451h1V488h-1zM399 461h5V484h-5zM409 471h1V498h-1zM407 474h5V483h-5zM417 474h1V478h-1zM415 474h5V477h-5zM425 449h1V476h-1zM423 468h5V475h-5zM433 455h1V474h-1zM431 465h5V468h-5zM441 439h1V468h-1zM439 445h5V465h-5zM449 441h1V458h-1zM447 445h5V452h-5zM457 448h1V473h-1zM455 451h5V469h-5zM465 464h1V468h-1zM463 465h5V468h-5zM473 454h1V475h-1zM471 465h5V471h-5zM481 466h1V479h-1zM479 470h5V477h-5zM489 475h1V511h-1zM487 475h5V495h-5zM497 483h1V517h-1zM495 495h5V502h-5zM505 487h1V523h-1zM503 491h5V502h-5zM513 496h1V505h-1zM511 499h5V504h-5zM521 496h1V511h-1zM519 500h5V503h-5zM529 446h1V504h-1zM527 452h5V500h-5zM537 447h1V504h-1zM535 451h5V497h-5zM545 474h1V506h-1zM543 478h5V497h-5zM553 476h1V496h-1zM551 479h5V487h-5zM561 478h1V485h-1zM559 479h5V484h-5zM569 407h1V482h-1zM567 419h5V480h-5zM577 385h1V427h-1zM575 390h5V419h-5zM585 372h1V400h-1zM583 390h5V396h-5zM593 394h1V438h-1zM591 394h5V434h-5zM601 417h1V443h-1zM599 432h5V435h-5zM609 419h1V431h-1zM607 421h5V431h-5zM617 408h1V440h-1zM615 421h5V426h-5zM625 421h1V436h-1zM623 425h5V429h-5zM633 426h1V440h-1zM631 428h5V440h-5zM641 430h1V452h-1zM639 439h5V444h-5zM649 429h1V444h-1zM647 434h5V444h-5zM657 427h1V431h-1zM655 427h5V431h-5zM665 396h1V429h-1zM663 397h5V428h-5zM673 383h1V403h-1zM671 389h5V397h-5zM681 383h1V406h-1zM679 386h5V389h-5zM689 384h1V407h-1zM687 386h5V400h-5zM697 399h1V423h-1zM695 399h5V421h-5zM705 408h1V416h-1zM703 412h5V415h-5zM713 393h1V419h-1zM711 402h5V412h-5zM721 371h1V407h-1zM719 379h5V402h-5zM729 368h1V408h-1zM727 379h5V390h-5zM737 372h1V392h-1zM735 388h5V391h-5zM745 361h1V394h-1zM743 381h5V387h-5zM753 382h1V386h-1zM751 384h5V386h-5zM761 383h1V434h-1zM759 384h5V408h-5zM769 395h1V421h-1zM767 400h5V408h-5zM777 371h1V402h-1zM775 395h5V401h-5zM785 388h1V421h-1zM783 395h5V416h-5zM793 414h1V462h-1zM791 416h5V442h-5zM801 413h1V422h-1zM799 418h5V419h-5zM809 394h1V424h-1zM807 416h5V419h-5zM817 389h1V424h-1zM815 395h5V415h-5zM825 377h1V402h-1zM823 386h5V396h-5zM833 368h1V391h-1zM831 380h5V387h-5zM841 371h1V397h-1zM839 380h5V392h-5zM849 407h1V419h-1zM847 411h5V414h-5zM857 392h1V458h-1zM855 407h5V413h-5zM865 401h1V431h-1zM863 407h5V413h-5zM873 371h1V417h-1zM871 382h5V413h-5zM881 348h1V384h-1zM879 369h5V382h-5zM889 366h1V373h-1zM887 367h5V373h-5zM897 364h1V393h-1zM895 366h5V389h-5zM905 375h1V390h-1zM903 386h5V389h-5zM913 362h1V387h-1zM911 365h5V386h-5zM921 347h1V371h-1zM919 354h5V365h-5zM929 345h1V357h-1zM927 347h5V357h-5zM937 346h1V388h-1zM935 347h5V380h-5zM945 375h1V392h-1zM943 380h5V381h-5zM953 364h1V386h-1zM951 370h5V381h-5zM961 353h1V376h-1zM959 357h5V370h-5zM969 344h1V361h-1zM967 355h5V358h-5zM977 357h1V363h-1zM975 359h5V362h-5zM985 355h1V371h-1zM983 358h5V361h-5zM993 328h1V360h-1zM991 334h5V358h-5zM1001 321h1V341h-1zM999 334h5V337h-5zM1009 322h1V338h-1zM1007 326h5V336h-5zM1017 325h1V355h-1zM1015 326h5V353h-5zM1025 348h1V356h-1zM1023 353h5V356h-5zM1033 351h1V371h-1zM1031 353h5V358h-5zM1041 333h1V359h-1zM1039 335h5V358h-5zM1049 319h1V352h-1zM1047 335h5V341h-5zM1057 322h1V343h-1zM1055 325h5V341h-5zM1065 322h1V341h-1zM1063 325h5V326h-5zM1073 325h1V331h-1zM1071 328h5V331h-5zM1081 319h1V337h-1zM1079 327h5V331h-5zM1089 316h1V346h-1zM1087 319h5V331h-5zM1097 306h1V323h-1zM1095 318h5V320h-5zM1105 295h1V324h-1zM1103 298h5V319h-5zM1113 278h1V303h-1zM1111 289h5V298h-5zM1121 287h1V293h-1zM1119 287h5V292h-5zM1129 274h1V296h-1zM1127 291h5V292h-5zM1137 282h1V300h-1zM1135 290h5V292h-5zM1145 284h1V300h-1zM1143 290h5V295h-5zM1153 266h1V307h-1zM1151 267h5V294h-5zM1161 254h1V270h-1zM1159 257h5V268h-5zM1169 255h1V263h-1zM1167 256h5V262h-5zM1177 252h1V266h-1zM1175 256h5V261h-5zM1185 259h1V276h-1zM1183 261h5V265h-5zM1193 249h1V268h-1zM1191 259h5V265h-5zM1201 253h1V263h-1zM1199 259h5V260h-5zM1209 239h1V265h-1zM1207 241h5V259h-5zM1217 232h1V242h-1zM1215 233h5V241h-5zM1225 209h1V235h-1zM1223 209h5V233h-5zM1233 185h1V213h-1zM1231 191h5V210h-5zM1241 190h1V215h-1zM1239 191h5V206h-5zM1249 179h1V212h-1zM1247 185h5V206h-5zM1257 170h1V193h-1zM1255 179h5V185h-5zM1265 172h1V181h-1zM1263 174h5V180h-5zM1273 166h1V186h-1zM1271 174h5V182h-5zM1281 157h1V183h-1zM1279 157h5V182h-5zM1289 121h1V158h-1zM1287 125h5V158h-5zM1297 111h1V163h-1zM1295 126h5V149h-5zM1305 146h1V190h-1zM1303 149h5V157h-5zM1313 151h1V165h-1zM1311 154h5V165h-5zM1321 141h1V166h-1zM1319 153h5V154h-5zM1329 147h1V172h-1zM1327 149h5V154h-5zM1337 130h1V152h-1zM1335 147h5V150h-5zM1345 104h1V147h-1zM1343 123h5V147h-5zM1353 113h1V140h-1zM1351 122h5V125h-5zM1361 119h1V126h-1zM1359 119h5V125h-5zM1369 105h1V132h-1zM1367 110h5V119h-5zM1377 90h1V111h-1zM1375 103h5V108h-5zM1385 95h1V107h-1zM1383 96h5V103h-5zM1393 74h1V99h-1zM1391 75h5V96h-5zM1401 65h1V92h-1zM1399 75h5V76h-5z" fill="#000"/>
<path d="M0 394h3V405h-3zM16 388h3V402h-3zM48 382h3V416h-3zM64 360h3V380h-3zM88 338h3V354h-3zM96 332h3V335h-3zM120 350h3V360h-3zM152 429h3V446h-3zM200 479h3V486h-3zM256 521h3V535h-3zM272 514h3V515h-3zM280 489h3V513h-3zM288 485h3V487h-3zM296 477h3V483h-3zM312 474h3V480h-3zM328 448h3V470h-3zM344 460h3V479h-3zM352 452h3V458h-3zM360 438h3V450h-3zM392 463h3V470h-3zM408 475h3V482h-3zM416 475h3V476h-3zM424 469h3V474h-3zM432 466h3V467h-3zM440 446h3V464h-3zM464 466h3V467h-3zM504 492h3V501h-3zM520 501h3V502h-3zM528 453h3V499h-3zM544 479h3V496h-3zM560 480h3V483h-3zM568 420h3V479h-3zM576 391h3V418h-3zM608 422h3V430h-3zM648 435h3V443h-3zM656 428h3V430h-3zM664 398h3V427h-3zM672 390h3V396h-3zM680 387h3V388h-3zM704 413h3V414h-3zM712 403h3V411h-3zM720 380h3V401h-3zM736 389h3V390h-3zM744 382h3V386h-3zM768 401h3V407h-3zM776 396h3V400h-3zM808 417h3V418h-3zM816 396h3V414h-3zM824 387h3V395h-3zM832 381h3V386h-3zM856 408h3V412h-3zM872 383h3V412h-3zM880 370h3V381h-3zM888 368h3V372h-3zM904 387h3V388h-3zM912 366h3V385h-3zM920 355h3V364h-3zM928 348h3V356h-3zM952 371h3V380h-3zM960 358h3V369h-3zM968 356h3V357h-3zM984 359h3V360h-3zM992 335h3V357h-3zM1008 327h3V335h-3zM1024 354h3V355h-3zM1040 336h3V357h-3zM1056 326h3V340h-3zM1072 329h3V330h-3zM1088 320h3V330h-3zM1104 299h3V318h-3zM1112 290h3V297h-3zM1152 268h3V293h-3zM1160 258h3V267h-3zM1168 257h3V261h-3zM1192 260h3V264h-3zM1208 242h3V258h-3zM1216 234h3V240h-3zM1224 210h3V232h-3zM1232 192h3V209h-3zM1248 186h3V205h-3zM1256 180h3V184h-3zM1264 175h3V179h-3zM1280 158h3V181h-3zM1288 126h3V157h-3zM1312 155h3V164h-3zM1328 150h3V153h-3zM1336 148h3V149h-3zM1344 124h3V146h-3zM1352 123h3V124h-3zM1360 120h3V124h-3zM1368 111h3V118h-3zM1376 104h3V107h-3zM1384 97h3V102h-3zM1392 76h3V95h-3z" fill="#fff"/>
</g>
<rect x="1343" y="81" width="151" height="6" fill="#00ff00" shape-rendering="crispEdges"/>
<g shape-rendering="crispEdges"><line x1="1142.8" y1="318.0" x2="1431.1" y2="50.7" stroke="#ff0000" stroke-width="3"/><polygon points="1432.9,49.0 1427.4,60.7 1420.8,53.6" fill="#ff0000"/></g>
<g><rect x="1250.5" y="75.5" width="61" height="18" fill="#fff" stroke="#ff0000" shape-rendering="crispEdges"/><text x="1281.0" y="91.2" font-size="18" fill="#ff0000" text-anchor="middle" textLength="57.4" lengthAdjust="spacingAndGlyphs">151.469</text></g>
<g><rect x="1226.5" y="101.5" width="61" height="18" fill="#fff" stroke="#ff0000" shape-rendering="crispEdges"/><text x="1257.0" y="117.2" font-size="18" fill="#ff0000" text-anchor="middle" textLength="57.4" lengthAdjust="spacingAndGlyphs">150.457</text></g>
<g shape-rendering="crispEdges" fill="none" stroke="#ff0000"><rect x="1312.5" y="82.5" width="3" height="3" fill="#fff"/><path d="M1316 84.500H1322"/><rect x="1288.5" y="108.5" width="3" height="3" fill="#fff"/><path d="M1292 110.500H1298"/></g>
<g shape-rendering="crispEdges"><rect x="1498.5" y="95.5" width="110" height="24" fill="none" stroke="#404040"/><path d="M1498 119.500H1609" stroke="#a0a030"/><path d="M1550.500 95v-1.500h3v1.500" fill="none" stroke="#00ff00"/></g>
<text x="1501" y="116" font-size="22" fill="#00ff00" textLength="106" lengthAdjust="spacingAndGlyphs" style="font-family:'Liberation Sans','Noto Sans CJK SC',sans-serif">多空转折点</text>
<g shape-rendering="crispEdges">
<path d="M1 627h1V678h-1zM9 630h1V678h-1zM17 631h1V678h-1zM25 636h1V678h-1zM33 641h1V678h-1zM41 645h1V678h-1zM49 643h1V678h-1zM57 642h1V678h-1zM65 638h1V678h-1zM73 636h1V678h-1zM81 634h1V678h-1zM89 629h1V678h-1zM97 626h1V678h-1zM105 624h1V678h-1zM113 627h1V678h-1zM121 629h1V678h-1zM129 632h1V678h-1zM137 639h1V678h-1zM145 655h1V678h-1zM153 665h1V678h-1zM161 677h1V680h-1zM169 677h1V693h-1zM177 677h1V704h-1zM185 677h1V712h-1zM193 677h1V718h-1zM201 677h1V721h-1zM209 677h1V723h-1zM217 677h1V728h-1zM225 677h1V731h-1zM233 677h1V737h-1zM241 677h1V742h-1zM249 677h1V745h-1zM257 677h1V744h-1zM265 677h1V743h-1zM273 677h1V740h-1zM281 677h1V733h-1zM289 677h1V726h-1zM297 677h1V719h-1zM305 677h1V713h-1zM313 677h1V707h-1zM321 677h1V703h-1zM329 677h1V693h-1zM337 677h1V693h-1zM345 677h1V688h-1zM353 677h1V683h-1zM369 674h1V678h-1zM377 670h1V678h-1zM385 673h1V678h-1zM393 673h1V678h-1zM417 677h1V679h-1zM425 677h1V678h-1zM433 677h1V678h-1zM441 676h1V678h-1zM449 675h1V678h-1zM457 676h1V678h-1zM473 677h1V678h-1zM481 677h1V678h-1zM489 677h1V682h-1zM497 677h1V687h-1zM505 677h1V689h-1zM513 677h1V692h-1zM521 677h1V694h-1zM529 677h1V687h-1zM537 677h1V689h-1zM545 677h1V687h-1zM553 677h1V688h-1zM561 677h1V686h-1zM577 664h1V678h-1zM585 654h1V678h-1zM593 654h1V678h-1zM601 653h1V678h-1zM609 651h1V678h-1zM617 651h1V678h-1zM625 651h1V678h-1zM633 653h1V678h-1zM641 656h1V678h-1zM649 657h1V678h-1zM657 657h1V678h-1zM665 653h1V678h-1zM673 647h1V678h-1zM681 644h1V678h-1zM689 643h1V678h-1zM697 647h1V678h-1zM705 649h1V678h-1zM713 648h1V678h-1zM721 645h1V678h-1zM729 645h1V678h-1zM737 645h1V678h-1zM745 643h1V678h-1zM753 644h1V678h-1zM761 648h1V678h-1zM769 650h1V678h-1zM777 652h1V678h-1zM785 657h1V678h-1zM793 665h1V678h-1zM801 668h1V678h-1zM809 669h1V678h-1zM817 668h1V678h-1zM825 665h1V678h-1zM833 662h1V678h-1zM841 662h1V678h-1zM849 665h1V678h-1zM857 667h1V678h-1zM865 669h1V678h-1zM873 667h1V678h-1zM881 662h1V678h-1zM889 659h1V678h-1zM897 660h1V678h-1zM905 660h1V678h-1zM913 658h1V678h-1zM921 654h1V678h-1zM929 650h1V678h-1zM937 653h1V678h-1zM945 657h1V678h-1zM953 656h1V678h-1zM961 655h1V678h-1zM969 654h1V678h-1zM977 654h1V678h-1zM985 654h1V678h-1zM993 650h1V678h-1zM1001 648h1V678h-1zM1009 645h1V678h-1zM1017 648h1V678h-1zM1025 651h1V678h-1zM1033 653h1V678h-1zM1041 651h1V678h-1zM1049 652h1V678h-1zM1057 650h1V678h-1zM1065 649h1V678h-1zM1073 650h1V678h-1zM1081 649h1V678h-1zM1089 648h1V678h-1zM1097 649h1V678h-1zM1105 644h1V678h-1zM1113 641h1V678h-1zM1121 639h1V678h-1zM1129 637h1V678h-1zM1137 637h1V678h-1zM1145 637h1V678h-1zM1153 634h1V678h-1zM1161 630h1V678h-1zM1169 628h1V678h-1zM1177 627h1V678h-1zM1185 628h1V678h-1zM1193 628h1V678h-1zM1201 628h1V678h-1zM1209 627h1V678h-1zM1217 625h1V678h-1zM1225 620h1V678h-1zM1233 614h1V678h-1zM1241 612h1V678h-1zM1249 609h1V678h-1zM1257 605h1V678h-1zM1265 603h1V678h-1zM1273 603h1V678h-1zM1281 600h1V678h-1zM1289 593h1V678h-1zM1297 593h1V678h-1zM1305 595h1V678h-1zM1313 597h1V678h-1zM1321 599h1V678h-1zM1329 602h1V678h-1zM1337 604h1V678h-1zM1345 603h1V678h-1zM1353 603h1V678h-1zM1361 603h1V678h-1zM1369 602h1V678h-1zM1377 601h1V678h-1zM1385 601h1V678h-1zM1393 597h1V678h-1zM1401 596h1V678h-1z" fill="#c0c0c0"/>
<path d="M0 625h3v1h-3zm6 0h3v1h-3zm6 0h3v1h-3zm6 0h3v1h-3zm6 1h1v1h-1zm1 1h2v1h-2zm5 1h3v1h-3zm6 1h2v1h-2zm2 1h1v1h-1zm4 0h1v1h-1zm1 1h2v1h-2zm5 1h2v1h-2zm2 1h1v1h-1zm4 1h3v1h-3zm6 1h2v1h-2zm2 1h1v1h-1zm4 0h3v1h-3zm6 1h3v1h-3zm6 0h3v1h-3zm6 0h3v1h-3zm6 0h3v1h-3zm6 -1h3v1h-3zm6 -1h2v1h-2zm2 -1h1v1h-1zm4 -1h3v1h-3zm6 -1h3v1h-3zm6 -1h3v1h-3zm6 -1h3v1h-3zm6 0h3v1h-3zm6 0h3v1h-3zm6 2h3v1h-3zm6 2h1v1h-1zm1 1h2v1h-2zm5 3h2v1h-2zm2 1h1v1h-1zm4 3h1v1h-1zm1 1h1v1h-1zm1 1h1v1h-1zm4 4h1v1h-1zm1 1h1v1h-1zm1 1h1v1h-1zm4 4h1v1h-1zm1 1h1v1h-1zm1 1h1v1h-1zm4 4h1v1h-1zm1 1h1v1h-1zm1 1h1v1h-1zm3 4h1v1h-1zm1 1h1v1h-1zm1 1h1v1h-1zm3 4h1v1h-1zm1 1h1v1h-1zm1 1h1v1h-1zm3 4h1v2h-1zm1 2h1v1h-1zm3 4h1v1h-1zm1 1h1v1h-1zm1 1h1v1h-1zm3 4h1v2h-1zm1 2h1v1h-1zm3 4h1v1h-1zm1 1h1v1h-1zm1 1h1v1h-1zm4 4h1v1h-1zm1 1h1v1h-1zm1 1h1v1h-1zm4 4h1v1h-1zm1 1h1v1h-1zm1 1h1v1h-1zm4 3h2v1h-2zm2 1h1v1h-1zm4 3h1v1h-1zm1 1h1v1h-1zm1 1h1v1h-1zm4 3h1v1h-1zm1 1h2v1h-2zm5 3h1v1h-1zm1 1h2v1h-2zm5 2h2v1h-2zm2 1h1v1h-1zm4 1h1v1h-1zm1 1h2v1h-2zm5 2h3v1h-3zm6 2h3v1h-3zm6 1h2v1h-2zm2 1h1v1h-1zm4 0h3v1h-3zm6 0h3v1h-3zm6 -1h2v1h-2zm2 -1h1v1h-1zm4 -1h3v1h-3zm6 -1h1v1h-1zm1 -1h2v1h-2zm5 -1h1v1h-1zm1 -1h2v1h-2zm5 -3h1v1h-1zm1 -1h1v1h-1zm1 -1h1v1h-1zm4 -2h1v1h-1zm1 -1h2v1h-2zm5 -2h1v1h-1zm1 -1h2v1h-2zm5 -3h1v1h-1zm1 -1h1v1h-1zm1 -1h1v1h-1zm4 -3h1v1h-1zm1 -1h2v1h-2zm5 -3h1v1h-1zm1 -1h1v1h-1zm1 -1h1v1h-1zm4 -2h1v1h-1zm1 -1h2v1h-2zm5 -3h1v1h-1zm1 -1h2v1h-2zm5 -3h2v1h-2zm2 -1h1v1h-1zm4 -3h2v1h-2zm2 -1h1v1h-1zm4 -3h2v1h-2zm2 -1h1v1h-1zm4 -2h2v1h-2zm2 -1h1v1h-1zm4 -2h2v1h-2zm2 -1h1v1h-1zm4 -1h2v1h-2zm2 -1h1v1h-1zm4 -1h3v1h-3zm6 -1h3v1h-3zm6 -1h3v1h-3zm6 0h3v1h-3zm6 -1h3v1h-3zm6 0h3v1h-3zm6 0h3v1h-3zm6 0h3v1h-3zm6 0h3v1h-3zm6 1h2v1h-2zm2 1h1v1h-1zm4 0h3v1h-3zm6 0h3v1h-3zm6 0h3v1h-3zm6 0h3v1h-3zm6 0h1v1h-1zm1 -1h2v1h-2zm5 0h3v1h-3zm6 1h3v1h-3zm6 1h3v1h-3zm6 1h3v1h-3zm6 1h1v1h-1zm1 1h2v1h-2zm5 1h1v1h-1zm1 1h2v1h-2zm5 1h2v1h-2zm2 1h1v1h-1zm4 1h3v1h-3zm6 1h3v1h-3zm6 1h3v1h-3zm6 0h2v1h-2zm2 1h1v1h-1zm4 0h3v1h-3zm6 0h3v1h-3zm6 -1h3v1h-3zm6 -1h2v1h-2zm2 -1h1v1h-1zm4 -2h1v1h-1zm1 -1h2v1h-2zm5 -3h1v1h-1zm1 -1h2v1h-2zm5 -2h2v1h-2zm2 -1h1v1h-1zm4 -2h2v1h-2zm2 -1h1v1h-1zm4 -2h2v1h-2zm2 -1h1v1h-1zm4 -2h2v1h-2zm2 -1h1v1h-1zm4 -2h2v1h-2zm2 -1h1v1h-1zm4 -2h1v1h-1zm1 -1h1v1h-1zm1 -1h1v1h-1zm4 -2h2v1h-2zm2 -1h1v1h-1zm4 -2h3v1h-3zm6 -1h3v1h-3zm6 -1h3v1h-3zm6 0h3v1h-3zm6 0h3v1h-3zm6 0h3v1h-3zm6 -1h3v1h-3zm6 0h3v1h-3zm6 -1h3v1h-3zm6 0h3v1h-3zm6 -1h3v1h-3zm6 0h3v1h-3zm6 -1h3v1h-3zm6 -1h3v1h-3zm6 -1h3v1h-3zm6 0h1v1h-1zm1 -1h2v1h-2zm5 0h3v1h-3zm6 -1h3v1h-3zm6 -1h3v1h-3zm6 0h3v1h-3zm6 0h3v1h-3zm6 1h3v1h-3zm6 1h3v1h-3zm6 0h1v1h-1zm1 1h2v1h-2zm5 0h3v1h-3zm6 1h3v1h-3zm6 1h3v1h-3zm6 1h2v1h-2zm2 1h1v1h-1zm4 1h3v1h-3zm6 2h2v1h-2zm2 1h1v1h-1zm4 1h1v1h-1zm1 1h2v1h-2zm5 1h2v1h-2zm2 1h1v1h-1zm4 1h3v1h-3zm6 1h3v1h-3zm6 1h3v1h-3zm6 1h3v1h-3zm6 0h3v1h-3zm6 1h3v1h-3zm6 1h3v1h-3zm6 0h3v1h-3zm6 0h3v1h-3zm6 -1h3v1h-3zm6 0h3v1h-3zm6 0h3v1h-3zm6 -1h3v1h-3zm6 0h3v1h-3zm6 0h2v1h-2zm2 -1h1v1h-1zm4 0h3v1h-3zm6 -1h3v1h-3zm6 -1h3v1h-3zm6 -1h2v1h-2zm2 -1h1v1h-1zm4 0h1v1h-1zm1 -1h2v1h-2zm5 -1h3v1h-3zm6 0h3v1h-3zm6 -1h3v1h-3zm6 0h3v1h-3zm6 -1h3v1h-3zm6 0h3v1h-3zm6 -1h3v1h-3zm6 0h3v1h-3zm6 0h3v1h-3zm6 0h2v1h-2zm2 -1h1v1h-1zm4 0h3v1h-3zm6 0h2v1h-2zm2 -1h1v1h-1zm4 0h3v1h-3zm6 0h3v1h-3zm6 -1h3v1h-3zm6 0h3v1h-3zm6 -1h3v1h-3zm6 0h3v1h-3zm6 0h3v1h-3zm6 0h3v1h-3zm6 -1h3v1h-3zm6 0h2v1h-2zm2 1h1v1h-1zm4 0h3v1h-3zm6 0h3v1h-3zm6 0h3v1h-3zm6 0h3v1h-3zm6 0h1v1h-1zm1 -1h2v1h-2zm5 0h2v1h-2zm2 -1h1v1h-1zm4 -1h3v1h-3zm6 -1h3v1h-3zm6 -1h3v1h-3zm6 -1h3v1h-3zm6 0h1v1h-1zm1 -1h2v1h-2zm5 0h1v1h-1zm1 -1h2v1h-2zm5 0h1v1h-1zm1 -1h2v1h-2zm5 0h1v1h-1zm1 -1h2v1h-2zm5 -1h2v1h-2zm2 -1h1v1h-1zm4 -1h1v1h-1zm1 -1h2v1h-2zm5 -1h3v1h-3zm6 0h2v1h-2zm2 -1h1v1h-1zm4 0h3v1h-3zm6 -1h3v1h-3zm6 -1h3v1h-3zm6 -1h3v1h-3zm6 -1h3v1h-3zm6 -1h2v1h-2zm2 -1h1v1h-1zm4 0h2v1h-2zm2 -1h1v1h-1zm4 0h2v1h-2zm2 -1h1v1h-1zm4 0h1v1h-1zm1 -1h2v1h-2zm5 -1h2v1h-2zm2 -1h1v1h-1zm4 -1h3v1h-3zm6 -1h3v1h-3zm6 -1h1v1h-1zm1 -1h2v1h-2zm5 -2h1v1h-1zm1 -1h2v1h-2zm5 -2h3v1h-3zm6 -1h1v1h-1zm1 -1h2v1h-2zm5 -2h2v1h-2zm2 -1h1v1h-1zm4 -2h3v1h-3zm6 -1h2v1h-2zm2 -1h1v1h-1zm4 -1h1v1h-1zm1 -1h2v1h-2zm5 -2h3v1h-3zm6 -1h3v1h-3zm6 0h3v1h-3zm6 -1h3v1h-3zm6 0h3v1h-3zm6 0h3v1h-3zm6 0h3v1h-3zm6 0h3v1h-3zm6 0h1v1h-1zm1 1h2v1h-2zm5 0h3v1h-3zm6 1h3v1h-3zm6 0h1v1h-1zm1 1h2v1h-2zm5 0h3v1h-3zm6 0h3v1h-3zm6 0h3v1h-3zm6 0h1v1h-1zm1 -1h2v1h-2z" fill="#ff0000"/>
</g>
<g shape-rendering="crispEdges">
<path d="M0 791.500H1671" stroke="#c0c0c0" stroke-dasharray="3 3" fill="none"/>
<path d="M0 842.500H1671" stroke="#c0c0c0" stroke-dasharray="3 3" fill="none"/>
<path d="M0 903.500H1671" stroke="#c0c0c0" stroke-dasharray="3 3" fill="none"/>
<path d="M1 816h1v1h-1zm1 1h1v1h-1zm1 1h1v1h-1zm1 1h1v1h-1zm1 1h1v1h-1zm1 1h1v1h-1zm1 1h1v1h-1zm1 1h1v1h-1zm1 1h1v1h-1zm1 -1h1v1h-1zm1 -1h2v1h-2zm2 -1h1v1h-1zm1 -1h1v1h-1zm1 -1h3v1h-3zm2 -1h1v1h-1zm1 2h1v2h-1zm1 2h1v2h-1zm1 2h1v2h-1zm1 2h1v3h-1zm1 3h1v2h-1zm1 2h1v2h-1zm1 2h1v2h-1zm1 2h1v1h-1zm0 1h4v1h-4zm4 -1h8v1h-8zm8 1h5v1h-5zm5 -2h1v2h-1zm1 -2h1v2h-1zm1 -2h1v2h-1zm1 -2h1v2h-1zm1 -2h1v2h-1zm1 -2h1v2h-1zm1 -2h1v2h-1zm1 -2h9v1h-9zm0 1h1v1h-1zm9 -2h1v1h-1zm1 -1h1v1h-1zm1 -1h1v1h-1zm1 -1h1v1h-1zm1 -1h1v1h-1zm1 -1h1v1h-1zm1 -1h1v1h-1zm1 -1h2v1h-2zm2 1h2v1h-2zm2 1h3v1h-3zm3 1h3v1h-3zm3 -1h2v1h-2zm2 -1h3v1h-3zm3 -1h2v1h-2zm2 -1h1v1h-1zm1 -1h2v1h-2zm2 -1h1v1h-1zm1 -1h1v1h-1zm1 -1h2v1h-2zm2 -1h2v1h-2zm2 -1h4v1h-4zm4 -1h4v1h-4zm4 1h4v1h-4zm4 1h3v1h-3zm2 1h1v1h-1zm1 1h1v2h-1zm1 2h1v3h-1zm1 3h1v2h-1zm1 2h1v3h-1zm1 3h1v2h-1zm1 2h1v3h-1zm1 3h1v2h-1zm1 2h3v1h-3zm0 1h1v1h-1zm3 -2h1v1h-1zm1 -1h2v1h-2zm2 -1h2v1h-2zm2 -1h1v1h-1zm1 1h1v1h-1zm1 1h2v1h-2zm2 1h1v1h-1zm1 1h1v1h-1zm1 1h2v1h-2zm2 1h1v1h-1zm1 1h1v2h-1zm1 2h1v2h-1zm1 2h1v2h-1zm1 2h1v1h-1zm1 1h1v2h-1zm1 2h1v2h-1zm1 2h1v2h-1zm1 2h1v2h-1zm1 2h1v3h-1zm1 3h1v3h-1zm1 3h1v3h-1zm1 3h1v4h-1zm1 4h1v3h-1zm1 3h1v3h-1zm1 3h1v3h-1zm1 3h2v1h-2zm0 1h1v1h-1zm2 -2h1v1h-1zm1 -1h1v1h-1zm1 -2h1v2h-1zm1 -1h1v1h-1zm1 -1h1v1h-1zm1 -1h1v1h-1zm1 -1h1v1h-1zm1 1h1v2h-1zm1 2h1v2h-1zm1 2h1v2h-1zm1 2h1v2h-1zm1 2h1v2h-1zm1 2h1v2h-1zm1 2h1v2h-1zm1 2h4v1h-4zm4 1h6v1h-6zm6 -1h2v1h-2zm2 -1h3v1h-3zm3 -1h5v1h-5zm5 1h13v1h-13zm13 -1h2v1h-2zm2 -1h1v1h-1zm1 -1h2v1h-2zm2 -1h2v1h-2zm2 -1h2v1h-2zm2 1h4v1h-4zm4 1h3v1h-3zm3 1h1v1h-1zm1 1h2v1h-2zm2 1h1v1h-1zm1 1h1v1h-1zm1 1h2v1h-2zm2 1h4v1h-4zm4 -1h5v1h-5zm5 1h1v1h-1zm1 1h1v1h-1zm1 1h1v1h-1zm1 1h2v1h-2zm2 1h1v1h-1zm1 1h1v1h-1zm1 1h2v1h-2zm2 1h4v1h-4zm4 1h11v1h-11zm11 -2h1v2h-1zm1 -1h1v1h-1zm1 -1h1v1h-1zm1 -2h1v2h-1zm1 -1h1v1h-1zm1 -1h1v1h-1zm1 -2h1v2h-1zm1 -1h4v1h-4zm4 1h5v1h-5zm5 -1h1v1h-1zm1 -1h2v1h-2zm2 -1h1v1h-1zm1 -1h1v1h-1zm1 -1h2v1h-2zm2 -1h1v1h-1zm1 -2h1v2h-1zm1 -2h1v2h-1zm1 -2h1v2h-1zm1 -2h1v2h-1zm1 -2h1v2h-1zm1 -2h1v2h-1zm1 -2h1v2h-1zm1 -1h2v1h-2zm2 -1h2v1h-2zm2 -1h3v1h-3zm3 -1h3v1h-3zm3 -1h2v1h-2zm2 -1h3v1h-3zm3 -1h3v1h-3zm3 1h4v1h-4zm4 1h3v1h-3zm3 -1h2v1h-2zm2 -1h2v1h-2zm2 -1h2v1h-2zm2 -1h3v1h-3zm3 -1h4v1h-4zm4 -1h3v1h-3zm3 -2h1v2h-1zm1 -1h1v1h-1zm1 -2h1v2h-1zm1 -1h1v1h-1zm1 -2h1v2h-1zm1 -1h1v1h-1zm1 -2h2v1h-2zm0 1h1v1h-1zm1 -2h1v1h-1zm1 2h1v2h-1zm1 2h1v2h-1zm1 2h1v2h-1zm1 2h1v2h-1zm1 2h1v2h-1zm1 2h1v2h-1zm1 2h1v2h-1zm1 2h2v1h-2zm0 1h1v1h-1zm2 -3h1v2h-1zm1 -1h1v1h-1zm1 -1h1v1h-1zm1 -1h1v1h-1zm1 -2h1v2h-1zm1 -1h1v1h-1zm1 -1h1v1h-1zm1 -1h2v1h-2zm2 -1h2v1h-2zm2 -1h2v1h-2zm2 -1h2v1h-2zm2 -1h2v1h-2zm2 -1h2v1h-2zm2 -1h2v1h-2zm2 -1h5v1h-5zm5 1h13v1h-13zm12 1h1v1h-1zm1 1h1v2h-1zm1 2h1v2h-1zm1 2h1v2h-1zm1 2h1v2h-1zm1 2h1v2h-1zm1 2h1v2h-1zm1 2h1v2h-1zm1 2h3v1h-3zm0 1h1v1h-1zm3 -2h1v1h-1zm1 -1h2v1h-2zm2 -1h2v1h-2zm2 -1h1v1h-1zm1 1h1v1h-1zm1 1h1v2h-1zm1 2h1v1h-1zm1 1h1v1h-1zm1 1h1v1h-1zm1 1h1v2h-1zm1 2h1v1h-1zm1 1h1v1h-1zm1 -1h2v1h-2zm2 -1h2v1h-2zm2 -1h2v1h-2zm2 -1h10v1h-10zm10 -1h2v1h-2zm2 -1h2v1h-2zm2 -1h2v1h-2zm2 -1h5v1h-5zm5 -1h5v1h-5zm5 -2h1v2h-1zm1 -1h1v1h-1zm1 -1h1v1h-1zm1 -2h1v2h-1zm1 -1h1v1h-1zm1 -1h1v1h-1zm1 -2h1v2h-1zm1 -1h1v1h-1zm1 1h2v1h-2zm2 1h2v1h-2zm2 1h2v1h-2zm2 1h2v1h-2zm2 1h1v1h-1zm1 1h1v2h-1zm1 2h1v1h-1zm1 1h1v1h-1zm1 1h1v1h-1zm1 1h1v2h-1zm1 2h1v1h-1zm1 1h2v1h-2zm2 -1h4v1h-4zm4 -1h4v1h-4zm4 1h2v1h-2zm2 1h3v1h-3zm3 1h3v1h-3zm3 1h2v1h-2zm2 1h3v1h-3zm3 1h2v1h-2zm2 1h1v1h-1zm1 1h1v2h-1zm1 2h1v1h-1zm1 1h1v1h-1zm1 1h1v1h-1zm1 1h1v2h-1zm1 2h1v1h-1zm1 1h1v1h-1zm1 1h2v1h-2zm2 1h2v1h-2zm2 1h2v1h-2zm2 1h2v1h-2zm2 -1h1v1h-1zm1 -1h1v1h-1zm1 -1h1v1h-1zm1 -2h1v2h-1zm1 -1h1v1h-1zm1 -1h1v1h-1zm1 -1h1v1h-1zm1 -1h1v1h-1zm1 1h1v1h-1zm1 1h2v1h-2zm2 1h1v1h-1zm1 1h1v1h-1zm1 1h2v1h-2zm2 1h2v1h-2zm2 -1h2v1h-2zm2 -1h3v1h-3zm3 -1h2v1h-2zm1 -1h1v1h-1zm1 -3h1v3h-1zm1 -4h1v4h-1zm1 -3h1v3h-1zm1 -3h1v3h-1zm1 -3h1v3h-1zm1 -4h1v4h-1zm1 -3h1v3h-1zm1 -2h1v2h-1zm1 2h1v2h-1zm1 2h1v3h-1zm1 3h1v3h-1zm1 3h1v2h-1zm1 2h1v3h-1zm1 3h1v3h-1zm1 3h1v2h-1zm1 2h2v1h-2zm0 1h1v1h-1zm2 -2h1v1h-1zm1 -1h1v1h-1zm1 -1h1v1h-1zm1 -1h1v1h-1zm1 -1h1v1h-1zm1 -1h1v1h-1zm1 -1h2v1h-2zm2 1h2v1h-2zm2 1h3v1h-3zm3 1h3v1h-3zm3 -1h2v1h-2zm2 -1h3v1h-3zm3 -1h2v1h-2zm1 -1h1v1h-1zm1 -3h1v3h-1zm1 -2h1v2h-1zm1 -3h1v3h-1zm1 -3h1v3h-1zm1 -3h1v3h-1zm1 -2h1v2h-1zm1 -3h1v3h-1zm1 -2h1v2h-1zm1 -1h1v1h-1zm1 -1h1v1h-1zm1 -1h1v1h-1zm1 -1h2v1h-2zm2 -1h1v1h-1zm1 -1h1v1h-1zm1 -1h2v1h-2zm2 1h4v1h-4zm4 1h3v1h-3zm3 1h1v2h-1zm1 2h1v2h-1zm1 2h1v2h-1zm1 2h1v2h-1zm1 2h1v2h-1zm1 2h1v2h-1zm1 2h1v2h-1zm1 2h1v1h-1zm0 1h4v1h-4zm4 1h5v1h-5zm5 -1h2v1h-2zm2 -1h1v1h-1zm1 -1h2v1h-2zm2 -1h2v1h-2zm2 -1h2v1h-2zm2 1h4v1h-4zm4 1h4v1h-4zm4 1h4v1h-4zm4 1h3v1h-3zm3 1h2v1h-2zm2 1h2v1h-2zm2 1h2v1h-2zm2 1h3v1h-3zm3 1h4v1h-4zm4 1h4v1h-4zm4 -1h2v1h-2zm2 -1h3v1h-3zm3 -1h3v1h-3zm3 -1h2v1h-2zm2 -1h3v1h-3zm3 -1h2v1h-2zm2 -2h1v2h-1zm1 -1h1v1h-1zm1 -1h1v1h-1zm1 -2h1v2h-1zm1 -1h1v1h-1zm1 -1h1v1h-1zm1 -2h1v2h-1zm1 -1h2v1h-2zm2 -1h2v1h-2zm2 -1h3v1h-3zm3 -1h5v1h-5zm5 -1h5v1h-5zm5 1h1v1h-1zm1 1h1v1h-1zm1 1h1v1h-1zm1 1h1v1h-1zm1 1h1v1h-1zm1 1h1v1h-1zm1 1h1v1h-1zm1 1h1v1h-1zm1 1h1v2h-1zm1 2h1v1h-1zm1 1h1v1h-1zm1 1h1v2h-1zm1 2h1v1h-1zm1 1h1v1h-1zm1 1h1v2h-1zm1 2h1v1h-1zm1 -1h2v1h-2zm2 -1h2v1h-2zm2 -1h2v1h-2zm2 -1h2v1h-2zm2 -1h2v1h-2zm2 -1h2v1h-2zm2 -1h2v1h-2zm2 -1h2v1h-2zm2 -1h1v1h-1zm1 -1h1v1h-1zm1 -1h1v1h-1zm1 -1h1v1h-1zm1 -1h1v1h-1zm1 -1h1v1h-1zm1 -1h1v1h-1zm1 -1h1v1h-1zm1 1h2v1h-2zm2 1h1v1h-1zm1 1h2v1h-2zm2 1h2v1h-2zm2 1h10v1h-10zm10 -1h2v1h-2zm2 -1h3v1h-3zm3 -1h3v1h-3zm3 1h4v1h-4zm4 1h3v1h-3zm3 1h1v2h-1zm1 2h1v2h-1zm1 2h1v2h-1zm1 2h1v1h-1zm1 1h1v2h-1zm1 2h1v2h-1zm1 2h1v2h-1zm1 2h1v1h-1zm1 -1h2v1h-2zm2 -1h2v1h-2zm2 -1h2v1h-2zm2 -1h3v1h-3zm3 -1h4v1h-4zm4 -1h3v1h-3zm3 1h1v2h-1zm1 2h1v1h-1zm1 1h1v1h-1zm1 1h1v2h-1zm1 2h1v1h-1zm1 1h1v1h-1zm1 1h1v2h-1zm1 2h1v1h-1zm1 1h1v2h-1zm1 2h1v1h-1zm1 1h1v2h-1zm1 2h1v1h-1zm1 1h1v2h-1zm1 2h1v1h-1zm1 1h1v2h-1zm1 2h1v1h-1zm1 -2h1v2h-1zm1 -1h1v1h-1zm1 -1h1v1h-1zm1 -2h1v2h-1zm1 -1h1v1h-1zm1 -1h1v1h-1zm1 -2h1v2h-1zm1 -1h2v1h-2zm2 -1h4v1h-4zm4 -1h3v1h-3zm3 -1h1v1h-1zm1 -1h1v1h-1zm1 -1h1v1h-1zm1 -2h1v2h-1zm1 -1h1v1h-1zm1 -1h1v1h-1zm1 -1h1v1h-1zm1 -1h1v1h-1zm1 -1h2v1h-2zm2 -1h2v1h-2zm2 -1h2v1h-2zm2 -1h3v1h-3zm3 -1h2v1h-2zm2 -1h3v1h-3zm3 -1h2v1h-2zm2 1h1v1h-1zm1 1h1v1h-1zm1 1h1v1h-1zm1 1h2v1h-2zm2 1h1v1h-1zm1 1h1v1h-1zm1 1h1v1h-1zm1 1h1v2h-1zm1 2h1v1h-1zm1 1h1v1h-1zm1 1h1v2h-1zm1 2h1v1h-1zm1 1h1v1h-1zm1 1h1v2h-1zm1 2h1v1h-1zm1 -1h2v1h-2zm2 -1h2v1h-2zm2 -1h2v1h-2zm2 -1h3v1h-3zm3 1h2v1h-2zm2 1h3v1h-3zm3 1h2v1h-2zm2 -2h1v2h-1zm1 -2h1v2h-1zm1 -1h1v1h-1zm1 -2h1v2h-1zm1 -1h1v1h-1zm1 -2h1v2h-1zm1 -2h1v2h-1zm1 -1h1v1h-1zm1 -1h2v1h-2zm2 -1h1v1h-1zm1 -1h2v1h-2zm2 -1h2v1h-2zm2 -1h4v1h-4zm4 -1h5v1h-5zm5 1h1v2h-1zm1 2h1v1h-1zm1 1h1v1h-1zm1 1h1v2h-1zm1 2h1v1h-1zm1 1h1v1h-1zm1 1h1v2h-1zm1 2h4v1h-4zm4 -1h5v1h-5zm5 -1h1v1h-1zm1 -1h1v1h-1zm1 -1h1v1h-1zm1 -1h1v1h-1zm1 -1h1v1h-1zm1 -1h1v1h-1zm1 -1h1v1h-1zm1 -1h1v1h-1zm1 -1h2v1h-2zm2 -1h1v1h-1zm1 -1h2v1h-2zm2 -1h2v1h-2zm2 -1h2v1h-2zm2 -1h4v1h-4zm4 -1h3v1h-3zm2 1h1v1h-1zm1 1h1v2h-1zm1 2h1v2h-1zm1 2h1v2h-1zm1 2h1v3h-1zm1 3h1v2h-1zm1 2h1v2h-1zm1 2h1v2h-1zm1 2h1v1h-1zm0 1h9v1h-9zm9 -1h2v1h-2zm2 -1h1v1h-1zm1 -1h2v1h-2zm2 -1h2v1h-2zm2 -1h1v1h-1zm1 -1h2v1h-2zm2 -1h1v1h-1zm1 -1h2v1h-2zm2 -1h2v1h-2zm2 -1h4v1h-4zm4 -1h5v1h-5zm5 1h2v1h-2zm2 1h2v1h-2zm2 1h2v1h-2zm2 1h3v1h-3zm3 -1h4v1h-4zm4 -1h3v1h-3zm3 -1h1v1h-1zm1 -2h1v2h-1zm1 -1h1v1h-1zm1 -1h1v1h-1zm1 -1h1v1h-1zm1 -2h1v2h-1zm1 -1h1v1h-1zm1 -1h4v1h-4zm4 1h5v1h-5zm5 -1h2v1h-2zm2 -1h2v1h-2zm2 -1h2v1h-2zm2 -1h2v1h-2zm1 1h1v1h-1zm1 1h1v2h-1zm1 2h1v2h-1zm1 2h1v2h-1zm1 2h1v3h-1zm1 3h1v2h-1zm1 2h1v2h-1zm1 2h1v2h-1zm1 2h1v1h-1zm0 1h10v1h-10zm10 1h4v1h-4zm4 1h3v1h-3zm3 -2h1v2h-1zm1 -1h1v1h-1zm1 -1h1v1h-1zm1 -2h1v2h-1zm1 -1h1v1h-1zm1 -1h1v1h-1zm1 -2h1v2h-1zm1 -1h1v1h-1zm1 1h2v1h-2zm2 1h2v1h-2zm2 1h2v1h-2zm2 1h2v1h-2zm2 -1h1v1h-1zm1 -1h2v1h-2zm2 -1h1v1h-1zm1 -1h1v1h-1zm1 -1h2v1h-2zm2 -1h12v1h-12zm12 1h6v1h-6zm6 1h4v1h-4zm4 1h3v1h-3zm3 -1h1v1h-1zm1 -1h2v1h-2zm2 -1h1v1h-1zm1 -1h1v1h-1zm1 -1h2v1h-2zm2 -1h9v1h-9zm9 -1h1v1h-1zm1 -1h1v1h-1zm1 -1h1v1h-1zm1 -2h1v2h-1zm1 -1h1v1h-1zm1 -1h1v1h-1zm1 -1h1v1h-1zm1 -1h1v1h-1zm1 -1h2v1h-2zm2 -1h2v1h-2zm2 -1h2v1h-2zm2 -1h3v1h-3zm3 1h4v1h-4zm4 1h19v1h-19zm19 1h2v1h-2zm2 1h2v1h-2zm2 1h2v1h-2zm2 1h2v1h-2zm2 -2h1v2h-1zm1 -1h1v1h-1zm1 -2h1v2h-1zm1 -1h1v1h-1zm1 -2h1v2h-1zm1 -1h1v1h-1zm1 -2h1v2h-1zm1 -1h2v1h-2zm2 -1h2v1h-2zm2 -1h3v1h-3zm3 -1h5v1h-5zm5 -1h5v1h-5zm5 1h2v1h-2zm2 1h1v1h-1zm1 1h2v1h-2zm2 1h2v1h-2zm2 1h1v1h-1zm1 1h2v1h-2zm2 1h2v1h-2zm2 1h2v1h-2zm2 1h3v1h-3zm3 -1h4v1h-4zm4 -1h11v1h-11zm11 -1h1v1h-1zm1 -1h1v1h-1zm1 -1h1v1h-1zm1 -1h2v1h-2zm2 -1h1v1h-1zm1 -1h1v1h-1zm1 -1h2v1h-2zm2 -1h2v1h-2zm2 -1h3v1h-3zm3 -1h2v1h-2zm2 -1h1v1h-1zm1 -1h1v1h-1zm1 -1h1v1h-1zm1 -1h1v1h-1zm1 -1h1v1h-1zm1 -1h1v1h-1zm1 -1h1v1h-1zm1 -1h2v1h-2zm2 -1h2v1h-2zm2 -1h3v1h-3zm3 -1h2v1h-2zm2 1h1v2h-1zm1 2h1v2h-1zm1 2h1v2h-1zm1 2h1v2h-1zm1 2h1v2h-1zm1 2h1v2h-1zm1 2h1v2h-1zm1 2h1v1h-1zm1 -1h1v1h-1zm1 -1h2v1h-2zm2 -1h1v1h-1zm1 -1h1v1h-1zm1 -1h2v1h-2zm2 -1h4v1h-4zm4 -1h6v1h-6zm6 -1h4v1h-4zm4 -1h3v1h-3zm3 1h1v1h-1zm1 1h1v1h-1zm1 1h1v1h-1zm1 1h1v1h-1zm1 1h1v1h-1zm1 1h1v1h-1zm1 1h1v1h-1zm1 1h1v1h-1zm1 -1h1v1h-1zm1 -1h2v1h-2zm2 -1h1v1h-1zm1 -1h1v1h-1zm1 -1h2v1h-2zm2 -1h1v1h-1zm1 -1h1v1h-1zm1 -1h2v1h-2zm2 -1h1v1h-1zm1 -1h1v1h-1zm1 -1h3v1h-3zm2 -1h1v1h-1zm1 2h1v2h-1zm1 2h1v2h-1zm1 2h1v2h-1zm1 2h1v3h-1zm1 3h1v2h-1zm1 2h1v2h-1zm1 2h1v2h-1zm1 2h1v2h-1zm1 2h2v1h-2zm2 1h1v1h-1zm1 1h2v1h-2zm2 1h2v1h-2zm2 1h4v1h-4zm4 -1h16v1h-16zm16 -1h8v1h-8zm8 -1h5v1h-5zm5 -1h1v1h-1zm1 -1h1v1h-1zm1 -1h1v1h-1zm1 -1h2v1h-2zm2 -1h1v1h-1zm1 -1h1v1h-1zm1 -1h12v1h-12zm12 -1h6v1h-6zm6 -1h2v1h-2zm2 -1h3v1h-3zm3 -1h3v1h-3zm3 -1h4v1h-4zm4 -1h4v1h-4zm4 -1h4v1h-4zm4 -1h3v1h-3zm3 -1h2v1h-2zm2 -1h1v1h-1zm1 -1h2v1h-2zm2 -1h2v1h-2zm2 -1h4v1h-4zm4 1h5v1h-5z" fill="#1e90ff"/>
</g>
<g shape-rendering="crispEdges" fill="#000">
<rect x="0" y="28" width="1672" height="1"/>
<rect x="1671" y="28" width="1" height="554"/>
<rect x="0" y="581" width="1672" height="1"/>
<rect x="0" y="583" width="1672" height="1"/>
<rect x="1671" y="583" width="1" height="171"/>
<rect x="0" y="753" width="1672" height="1"/>
<rect x="0" y="755" width="1672" height="1"/>
<rect x="1671" y="755" width="1" height="175"/>
<rect x="0" y="929" width="1672" height="1"/>
<rect x="1672" y="149" width="2" height="1"/>
<rect x="1672" y="182" width="2" height="1"/>
<rect x="1672" y="215" width="2" height="1"/>
<rect x="1672" y="248" width="2" height="1"/>
<rect x="1672" y="281" width="2" height="1"/>
<rect x="1672" y="314" width="2" height="1"/>
<rect x="1672" y="347" width="2" height="1"/>
<rect x="1672" y="380" width="2" height="1"/>
<rect x="1672" y="413" width="2" height="1"/>
<rect x="1672" y="446" width="2" height="1"/>
<rect x="1672" y="479" width="2" height="1"/>
<rect x="1672" y="512" width="2" height="1"/>
<rect x="1672" y="545" width="2" height="1"/>
<rect x="1672" y="578" width="2" height="1"/>
<rect x="1672" y="50" width="2" height="1"/>
<rect x="1672" y="585" width="1" height="1"/>
<rect x="1672" y="677" width="1" height="1"/>
<rect x="1672" y="752" width="1" height="1"/>
<rect x="1672" y="757" width="1" height="1"/>
<rect x="57" y="930" width="1" height="3"/>
<rect x="121" y="930" width="1" height="3"/>
<rect x="185" y="930" width="1" height="3"/>
<rect x="249" y="930" width="1" height="3"/>
<rect x="313" y="930" width="1" height="3"/>
<rect x="377" y="930" width="1" height="3"/>
<rect x="441" y="930" width="1" height="3"/>
<rect x="505" y="930" width="1" height="3"/>
<rect x="569" y="930" width="1" height="3"/>
<rect x="633" y="930" width="1" height="3"/>
<rect x="697" y="930" width="1" height="3"/>
<rect x="761" y="930" width="1" height="3"/>
<rect x="825" y="930" width="1" height="3"/>
<rect x="889" y="930" width="1" height="3"/>
<rect x="953" y="930" width="1" height="3"/>
<rect x="1017" y="930" width="1" height="3"/>
<rect x="1081" y="930" width="1" height="3"/>
<rect x="1145" y="930" width="1" height="3"/>
<rect x="1209" y="930" width="1" height="3"/>
<rect x="1273" y="930" width="1" height="3"/>
<rect x="1337" y="930" width="1" height="3"/>
<rect x="1401" y="930" width="1" height="3"/>
</g><g shape-rendering="crispEdges" fill="#fff">
<rect x="1666.5" y="41.5" width="4" height="4" stroke="#ff0000"/>
<rect x="1666.5" y="56.5" width="4" height="4" stroke="#ff0000"/>
<rect x="1666.5" y="99.5" width="4" height="4" stroke="#0000ff"/>
<rect x="1666.5" y="117.5" width="4" height="4" stroke="#0000ff"/>
</g>
<path d="M1412.500 29h9.600l-4.800 5.200z" fill="#c0c0c0"/>
</svg>
<div class="t" style="left:8px;top:32px;letter-spacing:-0.2px">GBPJPY-,Daily</div>
<div class="t" style="left:77px;top:32px;word-spacing:1.3px">151.852 152.216 151.211 151.836</div>
<div style="position:absolute;left:0;top:35px;width:0;height:0;border-left:3px solid #000;border-top:3px solid transparent;border-bottom:0 solid transparent"></div>
<div class="t" style="left:1677px;top:46px;">152.805</div>
<div class="t" style="left:1677px;top:145px;">148.955</div>
<div class="t" style="left:1677px;top:178px;">147.660</div>
<div class="t" style="left:1677px;top:211px;">146.365</div>
<div class="t" style="left:1677px;top:244px;">145.070</div>
<div class="t" style="left:1677px;top:277px;">143.810</div>
<div class="t" style="left:1677px;top:310px;">142.515</div>
<div class="t" style="left:1677px;top:343px;">141.220</div>
<div class="t" style="left:1677px;top:376px;">139.925</div>
<div class="t" style="left:1677px;top:409px;">138.665</div>
<div class="t" style="left:1677px;top:442px;">137.370</div>
<div class="t" style="left:1677px;top:475px;">136.075</div>
<div class="t" style="left:1677px;top:508px;">134.780</div>
<div class="t" style="left:1677px;top:541px;">133.520</div>
<div class="t" style="left:1677px;top:574px;">132.225</div>
<div class="lab" style="top:37px;background:#ff0000;color:#fff">153.065</div>
<div class="lab" style="top:52px;background:#ff0000;color:#fff">152.481</div>
<div class="lab" style="top:70px;background:#000;color:#fff">151.836</div>
<div class="lab" style="top:78px;background:#1fc8c8;color:#fff">151.469</div>
<div class="lab" style="top:95px;background:#0000ff;color:#fff">150.807</div>
<div class="lab" style="top:113px;background:#0000ff;color:#fff">150.106</div>
<div class="t" style="left:-2px;top:588px;word-spacing:1.2px">MACD(12,26,9) 1.5965 1.5004</div>
<div class="t" style="left:1675px;top:586px;">1.8026</div>
<div class="t" style="left:1675px;top:673px;">0.00</div>
<div class="t" style="left:1675px;top:742px;">-1.4717</div>
<div class="t" style="left:-3px;top:760px;word-spacing:1px">RSI(14) 82.9319</div>
<div class="t" style="left:1675px;top:758px;">100</div>
<div class="t" style="left:1674px;top:787px;">80</div>
<div class="t" style="left:1674px;top:838px;">50</div>
<div class="t" style="left:1674px;top:899px;">15</div>
<div class="t" style="left:1675px;top:918px;">0</div>
<div class="t" style="left:-8px;top:934px;word-spacing:0.9px">17 Aug 2020</div>
<div class="t" style="left:56px;top:934px;word-spacing:0.9px">26 Aug 2020</div>
<div class="t" style="left:120px;top:934px;word-spacing:0.9px">4 Sep 2020</div>
<div class="t" style="left:184px;top:934px;word-spacing:0.9px">14 Sep 2020</div>
<div class="t" style="left:248px;top:934px;word-spacing:0.9px">23 Sep 2020</div>
<div class="t" style="left:312px;top:934px;word-spacing:0.9px">2 Oct 2020</div>
<div class="t" style="left:376px;top:934px;word-spacing:0.9px">12 Oct 2020</div>
<div class="t" style="left:440px;top:934px;word-spacing:0.9px">21 Oct 2020</div>
<div class="t" style="left:504px;top:934px;word-spacing:0.9px">30 Oct 2020</div>
<div class="t" style="left:568px;top:934px;word-spacing:0.9px">9 Nov 2020</div>
<div class="t" style="left:632px;top:934px;word-spacing:0.9px">18 Nov 2020</div>
<div class="t" style="left:696px;top:934px;word-spacing:0.9px">27 Nov 2020</div>
<div class="t" style="left:760px;top:934px;word-spacing:0.9px">7 Dec 2020</div>
<div class="t" style="left:824px;top:934px;word-spacing:0.9px">16 Dec 2020</div>
<div class="t" style="left:888px;top:934px;word-spacing:0.9px">27 Dec 2020</div>
<div class="t" style="left:952px;top:934px;word-spacing:0.9px">6 Jan 2021</div>
<div class="t" style="left:1016px;top:934px;word-spacing:0.9px">15 Jan 2021</div>
<div class="t" style="left:1080px;top:934px;word-spacing:0.9px">25 Jan 2021</div>
<div class="t" style="left:1144px;top:934px;word-spacing:0.9px">3 Feb 2021</div>
<div class="t" style="left:1208px;top:934px;word-spacing:0.9px">12 Feb 2021</div>
<div class="t" style="left:1272px;top:934px;word-spacing:0.9px">22 Feb 2021</div>
<div class="t" style="left:1336px;top:934px;word-spacing:0.9px">3 Mar 2021</div>
<div class="t" style="left:1400px;top:934px;word-spacing:0.9px">12 Mar 2021</div>
<svg id="panel" width="220" height="70" viewBox="0 44 220 70" style="position:absolute;left:0;top:44px;font-family:'Liberation Sans',sans-serif">
<defs><linearGradient id="pTab" x1="0" y1="0" x2="0" y2="1"><stop offset="0" stop-color="#5656fb"/><stop offset="1" stop-color="#3636dc"/></linearGradient><linearGradient id="pBig" x1="0" y1="0" x2="0" y2="1"><stop offset="0" stop-color="#3c3ce2"/><stop offset=".5" stop-color="#1c1cc8"/><stop offset="1" stop-color="#0000a6"/></linearGradient><linearGradient id="pBtn" x1="0" y1="0" x2="0" y2="1"><stop offset="0" stop-color="#f2f2f2"/><stop offset=".45" stop-color="#e4e4e4"/><stop offset=".5" stop-color="#d6d6d6"/><stop offset="1" stop-color="#cecece"/></linearGradient></defs>
<rect x="0" y="47" width="217" height="66" fill="#fff"/>
<rect x="0" y="48" width="47.700" height="25" fill="#0000a0"/><rect x="0" y="49" width="46.700" height="23" fill="url(#pTab)"/>
<rect x="163.300" y="48" width="51.600" height="25" fill="#0000a0"/><rect x="164.300" y="49" width="49.600" height="23" fill="url(#pTab)"/>
<rect x="0" y="72.500" width="104.900" height="39.200" fill="#0000a0"/><rect x="0" y="73.300" width="103.900" height="37.600" fill="url(#pBig)"/>
<rect x="107.100" y="72.500" width="107.800" height="39.200" fill="#0000a0"/><rect x="108.100" y="73.300" width="105.800" height="37.600" fill="url(#pBig)"/>
<rect x="0" y="71" width="46.700" height="3" fill="#3737dd"/><rect x="164.300" y="71" width="49.600" height="3" fill="#3737dd"/>
<rect x="0" y="71.500" width="44" height="1" fill="#0a0aa8"/><rect x="0" y="72.500" width="44" height=".7" fill="#6a6af0"/>
<rect x="167" y="71.500" width="44" height="1" fill="#0a0aa8"/><rect x="167" y="72.500" width="44" height=".7" fill="#6a6af0"/>
<rect x="50.800" y="49.100" width="109.600" height="20" fill="#fff" stroke="#b4b4b4" stroke-width="1"/>
<rect x="51.800" y="50" width="18.600" height="18.200" fill="url(#pBtn)"/><rect x="140.800" y="50" width="18.600" height="18.200" fill="url(#pBtn)"/>
<rect x="70.900" y="49.500" width="1" height="19.200" fill="#b4b4b4"/><rect x="139" y="49.500" width="1" height="19.200" fill="#b4b4b4"/>
<path d="M58.500 57.200h4.600l-2.300 2.700z" fill="#4a66c4"/><path d="M147.700 59.600h4.600l-2.300-2.700z" fill="#4a66c4"/>
<text x="136.200" y="63" font-size="12" text-anchor="end" fill="#000" textLength="23.400" lengthAdjust="spacingAndGlyphs">1.00</text>
<g fill="#fff">
<text x="8.600" y="64" font-size="12.400" textLength="25.400" lengthAdjust="spacingAndGlyphs">SELL</text>
<text x="176.800" y="64" font-size="12.400" textLength="23.300" lengthAdjust="spacingAndGlyphs">BUY</text>
<text x="19.300" y="103.200" font-size="12.400" font-weight="bold" textLength="20.600" lengthAdjust="spacingAndGlyphs">151</text>
<text x="129.600" y="103.200" font-size="12.400" font-weight="bold" textLength="20.600" lengthAdjust="spacingAndGlyphs">151</text>
<text x="43.200" y="103.200" font-size="34" textLength="35" lengthAdjust="spacingAndGlyphs">83</text>
<text x="154" y="103.200" font-size="34" textLength="36" lengthAdjust="spacingAndGlyphs">87</text>
<text x="83" y="86.900" font-size="11.800" font-weight="bold">6</text>
<text x="193.900" y="86.900" font-size="11.800" font-weight="bold">6</text>
</g></svg>
<svg id="tb" width="1718" height="28" viewBox="0 0 1718 28" style="position:absolute;left:0;top:0">
<defs><linearGradient id="gGold" x1="0" y1="0" x2="1" y2="1"><stop offset="0" stop-color="#ffe680"/><stop offset=".6" stop-color="#e8b020"/><stop offset="1" stop-color="#a87808"/></linearGradient><linearGradient id="gGreen" x1="0" y1="0" x2="0" y2="1"><stop offset="0" stop-color="#60e860"/><stop offset="1" stop-color="#10a010"/></linearGradient><linearGradient id="gBlue" x1="0" y1="0" x2="0" y2="1"><stop offset="0" stop-color="#7ec0f8"/><stop offset="1" stop-color="#1860c8"/></linearGradient><linearGradient id="gLens" x1="0" y1="0" x2="0" y2="1"><stop offset="0" stop-color="#e8f4ff"/><stop offset="1" stop-color="#a8d0f0"/></linearGradient><radialGradient id="gRed" cx=".4" cy=".3" r=".8"><stop offset="0" stop-color="#f06040"/><stop offset="1" stop-color="#c02010"/></radialGradient><linearGradient id="gCloud" x1="0" y1="0" x2="0" y2="1"><stop offset="0" stop-color="#ffffff"/><stop offset="1" stop-color="#b8c8e0"/></linearGradient><linearGradient id="gBot" x1="0" y1="0" x2="0" y2="1"><stop offset="0" stop-color="#d8d8d8"/><stop offset=".45" stop-color="#a0a0a0"/><stop offset="1" stop-color="#686868"/></linearGradient><pattern id="chk" width="2" height="2" patternUnits="userSpaceOnUse"><rect width="2" height="2" fill="#f0f0f0"/><rect width="1" height="1" fill="#fff"/><rect x="1" y="1" width="1" height="1" fill="#fff"/></pattern></defs>
<rect x="0" y="0" width="1718" height="24" fill="#f0f0f0"/>
<rect x="0" y="23.5" width="1718" height="2.6" fill="url(#gBot)"/>
<path d="M2.4 19.2l1.4 1.4-1.4 1.4-1.4-1.4z" fill="none" stroke="#000" stroke-width=".9"/>
<rect x="7.8" y="5" width="11.2" height="12.6" rx="1" fill="#fbfaf6" stroke="#c0b8a0" stroke-width=".9"/>
<path d="M10.500 7v6M9.500 9h1M10.500 11h1.200M16.500 6.500v5M15.500 8h1M16.500 10h1" stroke="#707070" stroke-width=".8" fill="none"/>
<path d="M18.600 16.800l5 4.200" stroke="#c89018" stroke-width="2.2" stroke-linecap="round"/>
<circle cx="15.2" cy="13.6" r="4.6" fill="url(#gLens)" fill-opacity=".85" stroke="#6890d8" stroke-width="1"/>
<rect x="13.6" y="10.8" width="2.6" height="4.2" fill="#90a8c8" opacity=".8"/>
<rect x="31.9" y="1.5" width="1" height="20.0" fill="#a0a0a0"/>
<path d="M42.200 5.800q0-1 1-1h7.399999999999999l3.200 3.200v8.600q0 1-1 1h-9.600q-1 0-1-1z" fill="#fdfdfd" stroke="#8a8a8a" stroke-width=".9"/>
<path d="M50.600 4.800v3.200h3.200" fill="#e0e0e0" stroke="#8a8a8a" stroke-width=".7"/>
<path d="M44.300 7.200h3M44.300 9.600h5M44.300 12h5" stroke="#909090" stroke-width="1"/>
<path d="M50.099999999999994 10.500h3.400v3.900h3.900v3.400h-3.900v3.900h-3.400v-3.900h-3.900v-3.400h3.900z" fill="url(#gGreen)" stroke="#0a8a0a" stroke-width=".7"/>
<text x="61" y="15.300" font-size="12" fill="#000" textLength="35" lengthAdjust="spacingAndGlyphs" font-family="'Liberation Sans','Noto Sans CJK SC',sans-serif">新订单</text>
<path d="M109 14.600l7.600 6.800q.7.500 1.300-.1l6.900-7.900v-1.500l-7.400 7.600-8.200-6.300z" fill="#a87408"/>
<path d="M115.200 5.200q.5-.5 1.100-.1l8.300 6.600q.5.500.1 1.100l-6.500 7.500q-.5.500-1.100.1l-8-6.300q-.5-.500-.1-1.100z" fill="url(#gGold)" stroke="#b08010" stroke-width=".6"/>
<path d="M110.200 13.200l5.600-7 1.400 1.100" fill="none" stroke="#fff4b8" stroke-width=".8" opacity=".8"/>
<path d="M139.400 5.200l2.400-1.400h8.600v9.200h-11z" fill="url(#gBlue)" stroke="#1858c0" stroke-width=".6"/>
<rect x="142.6" y="6.2" width="6.4" height="6.2" fill="#d8ecff"/><path d="M143.600 8.400h4.200M143.600 10.600h4.200" stroke="#3878d0" stroke-width=".9"/>
<path d="M139.600 19.400q-2.600 0-2.600-2.200 0-2 2.400-2.200.6-2.600 3.400-2.600 2.200 0 3 1.800 1-.8 2.400-.4 1.600.6 1.600 2.200 2.600.2 2.600 1.800 0 1.600-2.400 1.600z" fill="url(#gCloud)" stroke="#8098c0" stroke-width=".7"/>
<g fill="none" stroke-linecap="round"><path d="M172.800 4.200a7.600 7.600 0 0 0 -4.800 13.600" stroke="#88a8e8" stroke-width="1"/><path d="M172.800 6.600a5.200 5.200 0 0 0 -3.200 9.400" stroke="#5888e0" stroke-width="1.100"/><path d="M172.800 9a2.800 2.800 0 0 0 -1.600 5.200" stroke="#3868d8" stroke-width="1.100"/></g>
<path d="M172.800 4.200a7.600 7.600 0 0 1 3.400 14.400l-3.400 1z" fill="#90c8a0" opacity=".75"/>
<path d="M172.800 6.800a5 5 0 0 1 2.200 9.600" fill="none" stroke="#60a878" stroke-width="1"/>
<path d="M172.900 12v7.600l3.600-1.200" fill="none" stroke="#18a028" stroke-width="1.300"/>
<circle cx="172.800" cy="11.800" r="1.700" fill="#2858d0"/>
<path d="M193.200 10.400l13.800.4-6.600 8.600q-1 .6-2-.2z" fill="#f4d848" stroke="#c8a018" stroke-width=".7"/>
<ellipse cx="200" cy="9.600" rx="7.800" ry="2.600" fill="#4890d8" stroke="#2868b8" stroke-width=".6"/>
<path d="M195.800 8.800q.4-4.800 4.400-4.800t4.400 4.800q-4.400 1.600-8.800 0z" fill="#78b8f0" stroke="#2868b8" stroke-width=".6"/>
<circle cx="204.200" cy="15.700" r="3.900" fill="url(#gRed)" stroke="#a01808" stroke-width=".5"/>
<rect x="202.600" y="14.100" width="3.200" height="3.200" fill="#fff"/>
<text x="213.400" y="15.300" font-size="12" fill="#000" textLength="46" lengthAdjust="spacingAndGlyphs" font-family="'Liberation Sans','Noto Sans CJK SC',sans-serif">自动交易</text>
<rect x="267.9" y="0" width="1" height="23.5" fill="#a0a0a0"/>
<path d="M272 2.500h3M272 4.500h3M272 6.500h3M272 8.500h3M272 10.500h3M272 12.500h3M272 14.500h3M272 16.500h3M272 18.500h3M272 20.500h3" stroke="#a8a8a8" stroke-width="1" fill="none" shape-rendering="crispEdges"/>
<path d="M286.600 7.200V19.900M284 17.500H297" stroke="#606060" stroke-width="1.1" fill="none"/>
<path d="M284.800 8.400L286.600 6.200L288.400 8.400zM295.800 15.700L298 17.500L295.800 19.300z" fill="#606060"/>
<path d="M293.700 7.700V14.900M293.700 8.100h1.800M290.400 14.400h3.300" stroke="#18a028" stroke-width="1.200" fill="none"/>
<rect x="306" y="0" width="25" height="22" fill="url(#chk)" shape-rendering="crispEdges"/>
<path d="M306.500 22V0.500H331" stroke="#a0a0a0" fill="none" shape-rendering="crispEdges"/>
<path d="M330.500 1V21.500H307" stroke="#ffffff" fill="none" shape-rendering="crispEdges"/>
<path d="M314.500 7.200V19.900M312 17.500H325" stroke="#606060" stroke-width="1.1" fill="none"/>
<path d="M312.700 8.400L314.500 6.200L316.300 8.400zM323.800 15.700L326 17.500L323.800 19.300z" fill="#606060"/>
<path d="M320.500 4.200V15.500" stroke="#108820" stroke-width="1"/><rect x="318.300" y="6.600" width="4.400" height="7.200" fill="#28d038" stroke="#108820" stroke-width=".7"/>
<path d="M342.300 7.200V19.900M339.800 17.500H353" stroke="#606060" stroke-width="1.1" fill="none"/>
<path d="M340.500 8.400L342.300 6.200L344.100 8.400zM351.800 15.700L354 17.500L351.800 19.300z" fill="#606060"/>
<path d="M341.500 14.900q2.800-5.600 5.800-5.500 2.200.2 5.300 3.900" stroke="#28a038" stroke-width="1.200" fill="none"/>
<rect x="362.9" y="1.5" width="1" height="20.0" fill="#a0a0a0"/>
<path d="M382 14l5.200 5.200" stroke="#d8b020" stroke-width="2.600" stroke-linecap="round"/>
<path d="M382.400 14.200l4.800 4.800" stroke="#f0e080" stroke-width=".8" stroke-linecap="round"/>
<circle cx="378" cy="10" r="5.300" fill="url(#gLens)" stroke="#3878d0" stroke-width="1.100"/>
<path d="M375 10h6M378 7v6" stroke="#3080d8" stroke-width="1.700"/>
<path d="M410.200 14l5.200 5.200" stroke="#d8b020" stroke-width="2.600" stroke-linecap="round"/>
<path d="M410.600 14.200l4.800 4.800" stroke="#f0e080" stroke-width=".8" stroke-linecap="round"/>
<circle cx="406.2" cy="10" r="5.300" fill="url(#gLens)" stroke="#3878d0" stroke-width="1.100"/>
<path d="M403.200 10h6" stroke="#3080d8" stroke-width="1.700"/>
<rect x="428.1" y="4.2" width="7.800" height="7.600" fill="#38a018"/><rect x="429.1" y="6.6" width="5.800" height="4.200" fill="#d8f0c8"/><path d="M430.100 8.700h3.800" stroke="#38a018" stroke-width=".9"/>
<rect x="436.3" y="4.2" width="7.800" height="7.600" fill="#1848c8"/><rect x="437.3" y="6.6" width="5.800" height="4.200" fill="#d0e0ff"/><path d="M438.300 8.700h3.800" stroke="#1848c8" stroke-width=".9"/>
<rect x="428.1" y="12.2" width="7.800" height="7.600" fill="#1848c8"/><rect x="429.1" y="14.6" width="5.800" height="4.200" fill="#d0e0ff"/><path d="M430.100 16.700h3.800" stroke="#1848c8" stroke-width=".9"/>
<rect x="436.3" y="12.2" width="7.800" height="7.600" fill="#38a018"/><rect x="437.3" y="14.6" width="5.800" height="4.200" fill="#d8f0c8"/><path d="M438.300 16.700h3.800" stroke="#38a018" stroke-width=".9"/>
<rect x="453.1" y="1.5" width="1" height="20.0" fill="#a0a0a0"/>
<rect x="458" y="0" width="25" height="22" fill="url(#chk)" shape-rendering="crispEdges"/>
<path d="M458.500 22V0.500H483" stroke="#a0a0a0" fill="none" shape-rendering="crispEdges"/>
<path d="M482.500 1V21.500H459" stroke="#ffffff" fill="none" shape-rendering="crispEdges"/>
<path d="M466.500 7.200V19.900M463.800 17.500H477" stroke="#606060" stroke-width="1.1" fill="none"/>
<path d="M464.700 8.400L466.500 6.200L468.300 8.400zM475.800 15.700L478 17.500L475.800 19.300z" fill="#606060"/>
<path d="M471.200 8.900v5.900l4-2.950z" fill="#58d868" stroke="#18a028" stroke-width=".8"/>
<rect x="486" y="0" width="25" height="22" fill="url(#chk)" shape-rendering="crispEdges"/>
<path d="M486.500 22V0.500H511" stroke="#a0a0a0" fill="none" shape-rendering="crispEdges"/>
<path d="M510.500 1V21.500H487" stroke="#ffffff" fill="none" shape-rendering="crispEdges"/>
<path d="M494.500 7.200V19.900M492 17.500H505" stroke="#606060" stroke-width="1.1" fill="none"/>
<path d="M492.700 8.400L494.500 6.200L496.300 8.400zM503.800 15.700L506 17.500L503.800 19.300z" fill="#606060"/>
<path d="M500.500 6.200V15.900" stroke="#2070c0" stroke-width="1.200"/><path d="M501.400 11.400l2.600-2.200v1.600h1.800v1.200h-1.800v1.600z" fill="#e04818"/>
<rect x="514.8" y="1.5" width="1" height="20.0" fill="#a0a0a0"/>
<path d="M525.600 5.500q0-1 1-1h6.600l3.200 3.200v8.200q0 1-1 1h-8.800q-1 0-1-1z" fill="#fdfdfd" stroke="#8a8a8a" stroke-width=".9"/>
<path d="M533.200 4.500v3.200h3.200" fill="#e0e0e0" stroke="#8a8a8a" stroke-width=".7"/>
<path d="M528 7.600q-1.200 2 0 4.600M529.400 8.400v3" stroke="#606060" stroke-width=".8" fill="none"/>
<path d="M533.300 10.200h3.600v3.700h3.700v3.600h-3.700v3.700h-3.600v-3.700h-3.700v-3.600h3.700z" fill="url(#gGreen)" stroke="#0a8a0a" stroke-width=".7"/>
<path d="M547 11h5.400l-2.700 3z" fill="#000"/>
<circle cx="570.900" cy="11.900" r="7.400" fill="#fff" stroke="#2a6cd0" stroke-width="2"/><circle cx="570.900" cy="11.900" r="5.600" fill="#f4f8ff" stroke="#a8c0e0" stroke-width=".5"/>
<path d="M570.900 8v4h2.800" stroke="#404040" stroke-width="1" fill="none"/>
<path d="M586.200 11h5.400l-2.700 3z" fill="#000"/>
<rect x="602.400" y="5.300" width="15.400" height="13.200" fill="#fff" stroke="#3878d0" stroke-width="1"/><rect x="602.400" y="5.300" width="15.400" height="2" fill="#5898e8"/><path d="M602.400 12.800h15.400" stroke="#3878d0" stroke-width=".8"/>
<path d="M604.400 10.800l2.600-.8 2 .6 2.600-1.400 2.400.8 2-.8" stroke="#c82010" stroke-width="1" fill="none"/><path d="M604.400 16.600l2.600-1.200 2 .8 2.600-1.800 2.400 1.600 2-.8" stroke="#18a028" stroke-width="1" fill="none"/>
<path d="M624.800 11h5.400l-2.700 3z" fill="#000"/>
<rect x="635.7" y="0" width="1" height="23.5" fill="#a0a0a0"/>
<path d="M640 2.500h3M640 4.500h3M640 6.500h3M640 8.500h3M640 10.500h3M640 12.500h3M640 14.500h3M640 16.500h3M640 18.500h3M640 20.500h3" stroke="#a8a8a8" stroke-width="1" fill="none" shape-rendering="crispEdges"/>
<rect x="646" y="0" width="25" height="22" fill="url(#chk)" shape-rendering="crispEdges"/>
<path d="M646.500 22V0.500H671" stroke="#a0a0a0" fill="none" shape-rendering="crispEdges"/>
<path d="M670.500 1V21.500H647" stroke="#ffffff" fill="none" shape-rendering="crispEdges"/>
<path d="M654.200 5v10.600l2.600-2.400 2.300 5.700 1.900-.8-2.300-5.500 3.600-.2z" fill="#484848"/>
<path d="M678.900 12.400h15.100M686.400 5.100v14.900" stroke="#585858" stroke-width="1.100" fill="none"/>
<rect x="703.0" y="1.5" width="1" height="20.0" fill="#a0a0a0"/>
<path d="M720.500 6.100v13" stroke="#585858" stroke-width="1.200"/>
<path d="M742.900 12.400h12.100" stroke="#585858" stroke-width="1.200"/>
<path d="M770.800 19.100l12.100-12.400" stroke="#585858" stroke-width="1.200"/>
<path d="M796.800 13.600l12-8.600M798.600 18.400l12-8.600" stroke="#585858" stroke-width="1" fill="none"/>
<path d="M799.800 10.400l1.600 6.600M802.600 8.400l1.600 6.600M805.400 6.400l1.600 6.600M808.200 4.400l1.600 6.600" stroke="#585858" stroke-width=".8" fill="none"/>
<text x="808" y="20.800" font-size="6.500" font-weight="bold" fill="#404040" font-family="Liberation Sans">E</text>
<path d="M825.800 5.400h13" stroke="#585858" stroke-width="1" stroke-dasharray="1 1" fill="none"/>
<path d="M825.800 8.800h13" stroke="#585858" stroke-width="1" stroke-dasharray="1 1" fill="none"/>
<path d="M825.800 12.300h13" stroke="#585858" stroke-width="1" stroke-dasharray="1 1" fill="none"/>
<path d="M825.800 16.800h9.500" stroke="#585858" stroke-width="1" stroke-dasharray="1 1" fill="none"/>
<text x="835.600" y="20.800" font-size="6.500" font-weight="bold" fill="#404040" font-family="Liberation Sans">F</text>
<text x="856.400" y="17.300" font-size="12.500" font-weight="bold" fill="#606060" font-family="Liberation Sans" textLength="8.400" lengthAdjust="spacingAndGlyphs">A</text>
<rect x="883" y="6.200" width="11.600" height="12" fill="none" stroke="#585858" stroke-width="1" stroke-dasharray="1 1"/><rect x="882.200" y="5.400" width="2" height="1.400" fill="#404040"/>
<path d="M885 9.400h8M889 9.400v7.800" stroke="#585858" stroke-width="1.500" fill="none"/>
<path d="M913.400 6l3.200 2.800-3.200 2.200-3.200-2.200z" fill="#505050"/><path d="M920.800 19.200l3.200-2.800-3.200-2.200-3.200 2.200z" fill="#505050"/>
<path d="M911.600 13l1.800 1.800 5.400-4.200" stroke="#505050" stroke-width="1.300" fill="none"/>
<path d="M931 11h5.400l-2.700 3z" fill="#000"/>
<rect x="942.2" y="0" width="1" height="23.5" fill="#a0a0a0"/>
<path d="M946 2.500h3M946 4.500h3M946 6.500h3M946 8.500h3M946 10.500h3M946 12.500h3M946 14.500h3M946 16.500h3M946 18.500h3M946 20.500h3" stroke="#a8a8a8" stroke-width="1" fill="none" shape-rendering="crispEdges"/>
<rect x="1120" y="0" width="25" height="22" fill="url(#chk)" shape-rendering="crispEdges"/>
<path d="M1120.500 22V0.500H1145" stroke="#a0a0a0" fill="none" shape-rendering="crispEdges"/>
<path d="M1144.500 1V21.500H1121" stroke="#ffffff" fill="none" shape-rendering="crispEdges"/>
<text x="963.8" y="15.600" font-size="9.800" fill="#404040" text-anchor="middle" font-family="Liberation Sans" letter-spacing="-0.2">M1</text>
<text x="991.7" y="15.600" font-size="9.800" fill="#404040" text-anchor="middle" font-family="Liberation Sans" letter-spacing="-0.2">M5</text>
<text x="1020.1" y="15.600" font-size="9.800" fill="#404040" text-anchor="middle" font-family="Liberation Sans" letter-spacing="-0.2">M15</text>
<text x="1048.3" y="15.600" font-size="9.800" fill="#404040" text-anchor="middle" font-family="Liberation Sans" letter-spacing="-0.2">M30</text>
<text x="1076.3" y="15.600" font-size="9.800" fill="#404040" text-anchor="middle" font-family="Liberation Sans" letter-spacing="-0.2">H1</text>
<text x="1103.8" y="15.600" font-size="9.800" fill="#404040" text-anchor="middle" font-family="Liberation Sans" letter-spacing="-0.2">H4</text>
<text x="1132.6" y="15.600" font-size="9.800" fill="#404040" text-anchor="middle" font-family="Liberation Sans" letter-spacing="-0.2">D1</text>
<text x="1161" y="15.600" font-size="9.800" fill="#404040" text-anchor="middle" font-family="Liberation Sans" letter-spacing="-0.2">W1</text>
<text x="1188.1" y="15.600" font-size="9.800" fill="#404040" text-anchor="middle" font-family="Liberation Sans" letter-spacing="-0.2">MN</text>
<rect x="1202.7" y="0" width="1" height="23.5" fill="#a0a0a0"/>
<path d="M1670.800 12.400l-5 4.500" stroke="#1858c0" stroke-width="2.200" stroke-linecap="round"/><path d="M1670.600 12.800l-4.600 4.100" stroke="#88b0f0" stroke-width=".7" stroke-dasharray=".8 .8"/>
<circle cx="1673.600" cy="9.600" r="3.900" fill="#f4f8ff" stroke="#2060c8" stroke-width="1.200"/>
<path d="M1691 13.800q0-4.600 5.400-4.600 5.600 0 5.600 4.400 0 3.800-5 4.200l-2.600.2-.8 2.400-.8-2.800q-1.800-1-1.800-3.800z" fill="#dcdfe8" stroke="#b8bcc8" stroke-width=".7"/>
<circle cx="1704.700" cy="9.300" r="8.100" fill="url(#gRed)"/>
<path d="M1701.600 7.200l2.600-2.400h1.600v8h2v1.600h-5.800v-1.600h2v-5.400l-2.400 1.400z" fill="#fff"/>
</svg>
<div style="position:absolute;left:1717px;top:26px;width:1px;height:920px;background:#e4e4e4"></div>
</div></body></html>
